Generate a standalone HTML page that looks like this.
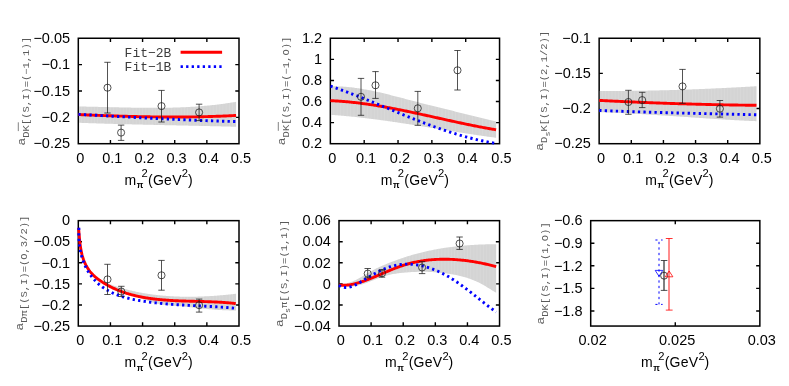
<!DOCTYPE html>
<html><head><meta charset="utf-8"><title>scattering lengths</title>
<style>
html,body{margin:0;padding:0;background:#fff;}
svg{display:block;}
text{font-kerning:none;filter:grayscale(1);}
</style></head>
<body>
<svg width="789" height="386" viewBox="0 0 789 386">
<rect width="789" height="386" fill="#ffffff"/>
<path d="M110.44 143.7 v-3.7 M110.44 38.25 v3.7 M142.58 143.7 v-3.7 M142.58 38.25 v3.7 M174.72 143.7 v-3.7 M174.72 38.25 v3.7 M206.86 143.7 v-3.7 M206.86 38.25 v3.7 M78.3 64.61 h3.7 M239 64.61 h-3.7 M78.3 90.97 h3.7 M239 90.97 h-3.7 M78.3 117.34 h3.7 M239 117.34 h-3.7" stroke="#000" stroke-width="1.4" fill="none"/>
<rect x="78.3" y="38.25" width="160.7" height="105.45" fill="none" stroke="#000" stroke-width="1.5"/>
<text x="80.2" y="162.7" text-anchor="middle" font-family='"Liberation Sans", sans-serif' font-size="14.5">0</text>
<text x="112.34" y="162.7" text-anchor="middle" font-family='"Liberation Sans", sans-serif' font-size="14.5">0.1</text>
<text x="144.48" y="162.7" text-anchor="middle" font-family='"Liberation Sans", sans-serif' font-size="14.5">0.2</text>
<text x="176.62" y="162.7" text-anchor="middle" font-family='"Liberation Sans", sans-serif' font-size="14.5">0.3</text>
<text x="208.76" y="162.7" text-anchor="middle" font-family='"Liberation Sans", sans-serif' font-size="14.5">0.4</text>
<text x="240.9" y="162.7" text-anchor="middle" font-family='"Liberation Sans", sans-serif' font-size="14.5">0.5</text>
<text x="70.1" y="42.95" text-anchor="end" font-family='"Liberation Sans", sans-serif' font-size="14.5">−0.05</text>
<text x="70.1" y="69.31" text-anchor="end" font-family='"Liberation Sans", sans-serif' font-size="14.5">−0.1</text>
<text x="70.1" y="95.67" text-anchor="end" font-family='"Liberation Sans", sans-serif' font-size="14.5">−0.15</text>
<text x="70.1" y="122.04" text-anchor="end" font-family='"Liberation Sans", sans-serif' font-size="14.5">−0.2</text>
<text x="70.1" y="148.4" text-anchor="end" font-family='"Liberation Sans", sans-serif' font-size="14.5">−0.25</text>
<text y="184.5" font-family='"Liberation Sans", sans-serif' font-size="14.0"><tspan x="124.45">m</tspan><tspan x="136.7" font-size="8.6" font-weight="bold" dy="3.8">π</tspan><tspan x="141.55" font-size="11.2" dy="-11.1">2</tspan><tspan x="148.05" dy="7.3" letter-spacing="0.25">(GeV</tspan><tspan x="181.75" font-size="11.2" dy="-7.3">2</tspan><tspan x="187.95" dy="7.3">)</tspan></text>
<g transform="translate(25 145.5) rotate(-90)" fill="#5a5a5a" font-family='"Liberation Mono", monospace'>
<text transform="scale(1 0.8)" x="0" y="0" font-size="13.0">a</text>
<text transform="translate(7.8 4.0) scale(1 0.86)" font-size="10.5">DK[(S,I)=(−1,1)]</text>
<path d="M14.4 -6.7 h8.8" stroke="#5a5a5a" stroke-width="0.75" fill="none"/>
</g>
<path d="M364.19 143.7 v-3.7 M364.19 38.25 v3.7 M398.03 143.7 v-3.7 M398.03 38.25 v3.7 M431.87 143.7 v-3.7 M431.87 38.25 v3.7 M465.71 143.7 v-3.7 M465.71 38.25 v3.7 M330.35 59.34 h3.7 M499.55 59.34 h-3.7 M330.35 80.43 h3.7 M499.55 80.43 h-3.7 M330.35 101.52 h3.7 M499.55 101.52 h-3.7 M330.35 122.61 h3.7 M499.55 122.61 h-3.7" stroke="#000" stroke-width="1.4" fill="none"/>
<rect x="330.35" y="38.25" width="169.2" height="105.45" fill="none" stroke="#000" stroke-width="1.5"/>
<text x="332.25" y="162.7" text-anchor="middle" font-family='"Liberation Sans", sans-serif' font-size="14.5">0</text>
<text x="366.09" y="162.7" text-anchor="middle" font-family='"Liberation Sans", sans-serif' font-size="14.5">0.1</text>
<text x="399.93" y="162.7" text-anchor="middle" font-family='"Liberation Sans", sans-serif' font-size="14.5">0.2</text>
<text x="433.77" y="162.7" text-anchor="middle" font-family='"Liberation Sans", sans-serif' font-size="14.5">0.3</text>
<text x="467.61" y="162.7" text-anchor="middle" font-family='"Liberation Sans", sans-serif' font-size="14.5">0.4</text>
<text x="501.45" y="162.7" text-anchor="middle" font-family='"Liberation Sans", sans-serif' font-size="14.5">0.5</text>
<text x="322.15" y="42.95" text-anchor="end" font-family='"Liberation Sans", sans-serif' font-size="14.5">1.2</text>
<text x="322.15" y="64.04" text-anchor="end" font-family='"Liberation Sans", sans-serif' font-size="14.5">1</text>
<text x="322.15" y="85.13" text-anchor="end" font-family='"Liberation Sans", sans-serif' font-size="14.5">0.8</text>
<text x="322.15" y="106.22" text-anchor="end" font-family='"Liberation Sans", sans-serif' font-size="14.5">0.6</text>
<text x="322.15" y="127.31" text-anchor="end" font-family='"Liberation Sans", sans-serif' font-size="14.5">0.4</text>
<text x="322.15" y="148.4" text-anchor="end" font-family='"Liberation Sans", sans-serif' font-size="14.5">0.2</text>
<text y="184.5" font-family='"Liberation Sans", sans-serif' font-size="14.0"><tspan x="380.75">m</tspan><tspan x="393" font-size="8.6" font-weight="bold" dy="3.8">π</tspan><tspan x="397.85" font-size="11.2" dy="-11.1">2</tspan><tspan x="404.35" dy="7.3" letter-spacing="0.25">(GeV</tspan><tspan x="438.05" font-size="11.2" dy="-7.3">2</tspan><tspan x="444.25" dy="7.3">)</tspan></text>
<g transform="translate(285 145.2) rotate(-90)" fill="#5a5a5a" font-family='"Liberation Mono", monospace'>
<text transform="scale(1 0.8)" x="0" y="0" font-size="13.0">a</text>
<text transform="translate(7.8 4.0) scale(1 0.86)" font-size="10.5">DK[(S,I)=(−1,O)]</text>
<path d="M14.4 -6.7 h8.8" stroke="#5a5a5a" stroke-width="0.75" fill="none"/>
</g>
<path d="M631.29 143.7 v-3.7 M631.29 38.25 v3.7 M663.43 143.7 v-3.7 M663.43 38.25 v3.7 M695.57 143.7 v-3.7 M695.57 38.25 v3.7 M727.71 143.7 v-3.7 M727.71 38.25 v3.7 M599.15 73.4 h3.7 M759.85 73.4 h-3.7 M599.15 108.55 h3.7 M759.85 108.55 h-3.7" stroke="#000" stroke-width="1.4" fill="none"/>
<rect x="599.15" y="38.25" width="160.7" height="105.45" fill="none" stroke="#000" stroke-width="1.5"/>
<text x="601.05" y="162.7" text-anchor="middle" font-family='"Liberation Sans", sans-serif' font-size="14.5">0</text>
<text x="633.19" y="162.7" text-anchor="middle" font-family='"Liberation Sans", sans-serif' font-size="14.5">0.1</text>
<text x="665.33" y="162.7" text-anchor="middle" font-family='"Liberation Sans", sans-serif' font-size="14.5">0.2</text>
<text x="697.47" y="162.7" text-anchor="middle" font-family='"Liberation Sans", sans-serif' font-size="14.5">0.3</text>
<text x="729.61" y="162.7" text-anchor="middle" font-family='"Liberation Sans", sans-serif' font-size="14.5">0.4</text>
<text x="761.75" y="162.7" text-anchor="middle" font-family='"Liberation Sans", sans-serif' font-size="14.5">0.5</text>
<text x="590.95" y="42.95" text-anchor="end" font-family='"Liberation Sans", sans-serif' font-size="14.5">−0.1</text>
<text x="590.95" y="78.1" text-anchor="end" font-family='"Liberation Sans", sans-serif' font-size="14.5">−0.15</text>
<text x="590.95" y="113.25" text-anchor="end" font-family='"Liberation Sans", sans-serif' font-size="14.5">−0.2</text>
<text x="590.95" y="148.4" text-anchor="end" font-family='"Liberation Sans", sans-serif' font-size="14.5">−0.25</text>
<text y="184.5" font-family='"Liberation Sans", sans-serif' font-size="14.0"><tspan x="645.3">m</tspan><tspan x="657.55" font-size="8.6" font-weight="bold" dy="3.8">π</tspan><tspan x="662.4" font-size="11.2" dy="-11.1">2</tspan><tspan x="668.9" dy="7.3" letter-spacing="0.25">(GeV</tspan><tspan x="702.6" font-size="11.2" dy="-7.3">2</tspan><tspan x="708.8" dy="7.3">)</tspan></text>
<g transform="translate(543.4 150.7) rotate(-90)" fill="#5a5a5a" font-family='"Liberation Mono", monospace'>
<text transform="scale(1 0.8)" x="0" y="0" font-size="13.0">a</text>
<text transform="translate(7.8 4.0) scale(1 0.86)" font-size="10.5">D</text>
<text transform="translate(14.1 6.6) scale(1 0.8)" font-size="8.4">s</text>
<text transform="translate(19.14 4.0) scale(1 0.86)" font-size="10.5">K[(S,I)=(2,1/2)]</text>
</g>
<path d="M110.44 326.05 v-3.7 M110.44 220.65 v3.7 M142.58 326.05 v-3.7 M142.58 220.65 v3.7 M174.72 326.05 v-3.7 M174.72 220.65 v3.7 M206.86 326.05 v-3.7 M206.86 220.65 v3.7 M78.3 241.73 h3.7 M239 241.73 h-3.7 M78.3 262.81 h3.7 M239 262.81 h-3.7 M78.3 283.89 h3.7 M239 283.89 h-3.7 M78.3 304.97 h3.7 M239 304.97 h-3.7" stroke="#000" stroke-width="1.4" fill="none"/>
<rect x="78.3" y="220.65" width="160.7" height="105.4" fill="none" stroke="#000" stroke-width="1.5"/>
<text x="80.2" y="345.05" text-anchor="middle" font-family='"Liberation Sans", sans-serif' font-size="14.5">0</text>
<text x="112.34" y="345.05" text-anchor="middle" font-family='"Liberation Sans", sans-serif' font-size="14.5">0.1</text>
<text x="144.48" y="345.05" text-anchor="middle" font-family='"Liberation Sans", sans-serif' font-size="14.5">0.2</text>
<text x="176.62" y="345.05" text-anchor="middle" font-family='"Liberation Sans", sans-serif' font-size="14.5">0.3</text>
<text x="208.76" y="345.05" text-anchor="middle" font-family='"Liberation Sans", sans-serif' font-size="14.5">0.4</text>
<text x="240.9" y="345.05" text-anchor="middle" font-family='"Liberation Sans", sans-serif' font-size="14.5">0.5</text>
<text x="70.1" y="225.35" text-anchor="end" font-family='"Liberation Sans", sans-serif' font-size="14.5">0</text>
<text x="70.1" y="246.43" text-anchor="end" font-family='"Liberation Sans", sans-serif' font-size="14.5">−0.05</text>
<text x="70.1" y="267.51" text-anchor="end" font-family='"Liberation Sans", sans-serif' font-size="14.5">−0.1</text>
<text x="70.1" y="288.59" text-anchor="end" font-family='"Liberation Sans", sans-serif' font-size="14.5">−0.15</text>
<text x="70.1" y="309.67" text-anchor="end" font-family='"Liberation Sans", sans-serif' font-size="14.5">−0.2</text>
<text x="70.1" y="330.75" text-anchor="end" font-family='"Liberation Sans", sans-serif' font-size="14.5">−0.25</text>
<text y="366.85" font-family='"Liberation Sans", sans-serif' font-size="14.0"><tspan x="124.45">m</tspan><tspan x="136.7" font-size="8.6" font-weight="bold" dy="3.8">π</tspan><tspan x="141.55" font-size="11.2" dy="-11.1">2</tspan><tspan x="148.05" dy="7.3" letter-spacing="0.25">(GeV</tspan><tspan x="181.75" font-size="11.2" dy="-7.3">2</tspan><tspan x="187.95" dy="7.3">)</tspan></text>
<g transform="translate(23.4 330.5) rotate(-90)" fill="#5a5a5a" font-family='"Liberation Mono", monospace'>
<text transform="scale(1 0.8)" x="0" y="0" font-size="13.0">a</text>
<text transform="translate(7.8 4.0) scale(1 0.86)" font-size="10.5">Dπ[(S,I)=(O,3/2)]</text>
</g>
<path d="M371.11 326.05 v-3.7 M371.11 220.65 v3.7 M403.22 326.05 v-3.7 M403.22 220.65 v3.7 M435.33 326.05 v-3.7 M435.33 220.65 v3.7 M467.44 326.05 v-3.7 M467.44 220.65 v3.7 M339 241.73 h3.7 M499.55 241.73 h-3.7 M339 262.81 h3.7 M499.55 262.81 h-3.7 M339 283.89 h3.7 M499.55 283.89 h-3.7 M339 304.97 h3.7 M499.55 304.97 h-3.7" stroke="#000" stroke-width="1.4" fill="none"/>
<rect x="339" y="220.65" width="160.55" height="105.4" fill="none" stroke="#000" stroke-width="1.5"/>
<text x="340.9" y="345.05" text-anchor="middle" font-family='"Liberation Sans", sans-serif' font-size="14.5">0</text>
<text x="373.01" y="345.05" text-anchor="middle" font-family='"Liberation Sans", sans-serif' font-size="14.5">0.1</text>
<text x="405.12" y="345.05" text-anchor="middle" font-family='"Liberation Sans", sans-serif' font-size="14.5">0.2</text>
<text x="437.23" y="345.05" text-anchor="middle" font-family='"Liberation Sans", sans-serif' font-size="14.5">0.3</text>
<text x="469.34" y="345.05" text-anchor="middle" font-family='"Liberation Sans", sans-serif' font-size="14.5">0.4</text>
<text x="501.45" y="345.05" text-anchor="middle" font-family='"Liberation Sans", sans-serif' font-size="14.5">0.5</text>
<text x="330.8" y="225.35" text-anchor="end" font-family='"Liberation Sans", sans-serif' font-size="14.5">0.06</text>
<text x="330.8" y="246.43" text-anchor="end" font-family='"Liberation Sans", sans-serif' font-size="14.5">0.04</text>
<text x="330.8" y="267.51" text-anchor="end" font-family='"Liberation Sans", sans-serif' font-size="14.5">0.02</text>
<text x="330.8" y="288.59" text-anchor="end" font-family='"Liberation Sans", sans-serif' font-size="14.5">0</text>
<text x="330.8" y="309.67" text-anchor="end" font-family='"Liberation Sans", sans-serif' font-size="14.5">−0.02</text>
<text x="330.8" y="330.75" text-anchor="end" font-family='"Liberation Sans", sans-serif' font-size="14.5">−0.04</text>
<text y="366.85" font-family='"Liberation Sans", sans-serif' font-size="14.0"><tspan x="385.07">m</tspan><tspan x="397.32" font-size="8.6" font-weight="bold" dy="3.8">π</tspan><tspan x="402.18" font-size="11.2" dy="-11.1">2</tspan><tspan x="408.68" dy="7.3" letter-spacing="0.25">(GeV</tspan><tspan x="442.38" font-size="11.2" dy="-7.3">2</tspan><tspan x="448.57" dy="7.3">)</tspan></text>
<g transform="translate(283.1 327.1) rotate(-90)" fill="#5a5a5a" font-family='"Liberation Mono", monospace'>
<text transform="scale(1 0.8)" x="0" y="0" font-size="13.0">a</text>
<text transform="translate(7.8 4.0) scale(1 0.86)" font-size="10.5">D</text>
<text transform="translate(14.1 6.6) scale(1 0.8)" font-size="8.4">s</text>
<text transform="translate(19.14 4.0) scale(1 0.86)" font-size="10.5">π[(S,I)=(1,1)]</text>
</g>
<path d="M675.28 326.05 v-3.7 M675.28 220.65 v3.7 M590.7 243.24 h3.7 M759.85 243.24 h-3.7 M590.7 265.82 h3.7 M759.85 265.82 h-3.7 M590.7 288.41 h3.7 M759.85 288.41 h-3.7 M590.7 310.99 h3.7 M759.85 310.99 h-3.7" stroke="#000" stroke-width="1.4" fill="none"/>
<rect x="590.7" y="220.65" width="169.15" height="105.4" fill="none" stroke="#000" stroke-width="1.5"/>
<text x="592.6" y="345.05" text-anchor="middle" font-family='"Liberation Sans", sans-serif' font-size="14.5">0.02</text>
<text x="677.18" y="345.05" text-anchor="middle" font-family='"Liberation Sans", sans-serif' font-size="14.5">0.025</text>
<text x="761.75" y="345.05" text-anchor="middle" font-family='"Liberation Sans", sans-serif' font-size="14.5">0.03</text>
<text x="582.5" y="225.35" text-anchor="end" font-family='"Liberation Sans", sans-serif' font-size="14.5">−0.6</text>
<text x="582.5" y="247.94" text-anchor="end" font-family='"Liberation Sans", sans-serif' font-size="14.5">−0.9</text>
<text x="582.5" y="270.52" text-anchor="end" font-family='"Liberation Sans", sans-serif' font-size="14.5">−1.2</text>
<text x="582.5" y="293.11" text-anchor="end" font-family='"Liberation Sans", sans-serif' font-size="14.5">−1.5</text>
<text x="582.5" y="315.69" text-anchor="end" font-family='"Liberation Sans", sans-serif' font-size="14.5">−1.8</text>
<text y="366.85" font-family='"Liberation Sans", sans-serif' font-size="14.0"><tspan x="641.08">m</tspan><tspan x="653.33" font-size="8.6" font-weight="bold" dy="3.8">π</tspan><tspan x="658.18" font-size="11.2" dy="-11.1">2</tspan><tspan x="664.68" dy="7.3" letter-spacing="0.25">(GeV</tspan><tspan x="698.38" font-size="11.2" dy="-7.3">2</tspan><tspan x="704.58" dy="7.3">)</tspan></text>
<g transform="translate(544.2 324.5) rotate(-90)" fill="#5a5a5a" font-family='"Liberation Mono", monospace'>
<text transform="scale(1 0.8)" x="0" y="0" font-size="13.0">a</text>
<text transform="translate(7.8 4.0) scale(1 0.86)" font-size="10.5">DK[(S,I)=(1,O)]</text>
</g>
<path d="M79 106.5 L79.99 106.51 L80.98 106.52 L81.97 106.54 L82.95 106.56 L83.94 106.57 L84.93 106.59 L85.92 106.61 L86.91 106.63 L87.9 106.65 L88.89 106.67 L89.87 106.69 L90.86 106.71 L91.85 106.73 L92.84 106.75 L93.83 106.77 L94.82 106.79 L95.81 106.81 L96.8 106.84 L97.79 106.86 L98.78 106.88 L99.77 106.9 L100.76 106.93 L101.75 106.95 L102.74 106.98 L103.73 107 L104.72 107.02 L105.71 107.05 L106.7 107.07 L107.69 107.1 L108.68 107.12 L109.67 107.14 L110.66 107.17 L111.65 107.19 L112.64 107.22 L113.63 107.24 L114.62 107.26 L115.61 107.29 L116.6 107.31 L117.59 107.34 L118.58 107.36 L119.57 107.38 L120.56 107.4 L121.55 107.43 L122.54 107.45 L123.54 107.47 L124.53 107.49 L125.52 107.51 L126.51 107.53 L127.5 107.55 L128.49 107.57 L129.48 107.59 L130.47 107.61 L131.46 107.63 L132.45 107.65 L133.44 107.66 L134.43 107.68 L135.43 107.7 L136.42 107.71 L137.41 107.72 L138.4 107.74 L139.39 107.75 L140.38 107.76 L141.37 107.78 L142.36 107.79 L143.35 107.8 L144.34 107.81 L145.33 107.81 L146.32 107.82 L147.31 107.83 L148.3 107.83 L149.29 107.84 L150.29 107.84 L151.28 107.84 L152.27 107.85 L153.26 107.85 L154.25 107.85 L155.24 107.85 L156.23 107.84 L157.22 107.84 L158.21 107.83 L159.2 107.83 L160.19 107.82 L161.18 107.81 L162.17 107.8 L163.16 107.79 L164.15 107.78 L165.14 107.77 L166.13 107.75 L167.12 107.73 L168.11 107.72 L169.1 107.7 L170.08 107.68 L171.07 107.65 L172.06 107.63 L173.05 107.61 L174.04 107.58 L175.03 107.55 L176.02 107.52 L177.01 107.49 L178 107.46 L178.99 107.42 L179.97 107.39 L180.96 107.35 L181.95 107.31 L182.94 107.27 L183.93 107.22 L184.92 107.18 L185.9 107.13 L186.89 107.08 L187.88 107.03 L188.87 106.98 L189.85 106.93 L190.84 106.87 L191.83 106.81 L192.82 106.75 L193.8 106.69 L194.79 106.63 L195.78 106.56 L196.76 106.49 L197.75 106.42 L198.74 106.35 L199.72 106.27 L200.71 106.2 L201.69 106.12 L202.68 106.04 L203.67 105.95 L204.65 105.87 L205.64 105.78 L206.62 105.69 L207.61 105.6 L208.59 105.5 L209.58 105.41 L210.56 105.31 L211.55 105.2 L212.53 105.1 L213.51 104.99 L214.5 104.88 L215.48 104.77 L216.47 104.66 L217.45 104.54 L218.43 104.42 L219.42 104.3 L220.4 104.17 L221.38 104.04 L222.36 103.91 L223.35 103.78 L224.33 103.65 L225.31 103.51 L226.29 103.37 L227.27 103.22 L228.26 103.07 L229.24 102.93 L230.22 102.77 L231.2 102.62 L232.18 102.46 L233.16 102.3 L234.14 102.13 L235.12 101.97 L236.1 101.8 L236.1 126.78 L235.11 126.76 L234.12 126.73 L233.14 126.7 L232.15 126.68 L231.16 126.65 L230.17 126.62 L229.18 126.6 L228.2 126.57 L227.21 126.55 L226.22 126.52 L225.23 126.5 L224.24 126.47 L223.26 126.45 L222.27 126.42 L221.28 126.4 L220.29 126.37 L219.3 126.35 L218.32 126.32 L217.33 126.3 L216.34 126.28 L215.35 126.25 L214.36 126.23 L213.38 126.21 L212.39 126.18 L211.4 126.16 L210.41 126.14 L209.42 126.11 L208.43 126.09 L207.45 126.07 L206.46 126.04 L205.47 126.02 L204.48 126 L203.49 125.98 L202.51 125.95 L201.52 125.93 L200.53 125.91 L199.54 125.89 L198.55 125.86 L197.57 125.84 L196.58 125.82 L195.59 125.8 L194.6 125.78 L193.61 125.75 L192.62 125.73 L191.64 125.71 L190.65 125.69 L189.66 125.67 L188.67 125.64 L187.68 125.62 L186.7 125.6 L185.71 125.58 L184.72 125.56 L183.73 125.54 L182.74 125.51 L181.76 125.49 L180.77 125.47 L179.78 125.45 L178.79 125.43 L177.8 125.41 L176.81 125.39 L175.83 125.36 L174.84 125.34 L173.85 125.32 L172.86 125.3 L171.87 125.28 L170.89 125.26 L169.9 125.24 L168.91 125.21 L167.92 125.19 L166.93 125.17 L165.95 125.15 L164.96 125.13 L163.97 125.11 L162.98 125.08 L161.99 125.06 L161 125.04 L160.02 125.02 L159.03 125 L158.04 124.98 L157.05 124.95 L156.06 124.93 L155.08 124.91 L154.09 124.89 L153.1 124.87 L152.11 124.84 L151.12 124.82 L150.14 124.8 L149.15 124.78 L148.16 124.75 L147.17 124.73 L146.18 124.71 L145.19 124.68 L144.21 124.66 L143.22 124.64 L142.23 124.62 L141.24 124.59 L140.25 124.57 L139.27 124.54 L138.28 124.52 L137.29 124.5 L136.3 124.47 L135.31 124.45 L134.33 124.43 L133.34 124.4 L132.35 124.38 L131.36 124.35 L130.37 124.33 L129.39 124.3 L128.4 124.28 L127.41 124.25 L126.42 124.23 L125.43 124.2 L124.44 124.18 L123.46 124.15 L122.47 124.13 L121.48 124.1 L120.49 124.07 L119.5 124.05 L118.52 124.02 L117.53 123.99 L116.54 123.97 L115.55 123.94 L114.56 123.91 L113.58 123.89 L112.59 123.86 L111.6 123.83 L110.61 123.8 L109.62 123.77 L108.64 123.75 L107.65 123.72 L106.66 123.69 L105.67 123.66 L104.69 123.63 L103.7 123.6 L102.71 123.57 L101.72 123.54 L100.73 123.51 L99.75 123.48 L98.76 123.45 L97.77 123.42 L96.78 123.39 L95.79 123.36 L94.81 123.33 L93.82 123.29 L92.83 123.26 L91.84 123.23 L90.85 123.2 L89.87 123.16 L88.88 123.13 L87.89 123.1 L86.9 123.06 L85.92 123.03 L84.93 123 L83.94 122.96 L82.95 122.93 L81.96 122.89 L80.98 122.86 L79.99 122.82 L79 122.79Z" fill="#d4d4d4"/>
<clipPath id="cb1"><path d="M79 106.5 L79.99 106.51 L80.98 106.52 L81.97 106.54 L82.95 106.56 L83.94 106.57 L84.93 106.59 L85.92 106.61 L86.91 106.63 L87.9 106.65 L88.89 106.67 L89.87 106.69 L90.86 106.71 L91.85 106.73 L92.84 106.75 L93.83 106.77 L94.82 106.79 L95.81 106.81 L96.8 106.84 L97.79 106.86 L98.78 106.88 L99.77 106.9 L100.76 106.93 L101.75 106.95 L102.74 106.98 L103.73 107 L104.72 107.02 L105.71 107.05 L106.7 107.07 L107.69 107.1 L108.68 107.12 L109.67 107.14 L110.66 107.17 L111.65 107.19 L112.64 107.22 L113.63 107.24 L114.62 107.26 L115.61 107.29 L116.6 107.31 L117.59 107.34 L118.58 107.36 L119.57 107.38 L120.56 107.4 L121.55 107.43 L122.54 107.45 L123.54 107.47 L124.53 107.49 L125.52 107.51 L126.51 107.53 L127.5 107.55 L128.49 107.57 L129.48 107.59 L130.47 107.61 L131.46 107.63 L132.45 107.65 L133.44 107.66 L134.43 107.68 L135.43 107.7 L136.42 107.71 L137.41 107.72 L138.4 107.74 L139.39 107.75 L140.38 107.76 L141.37 107.78 L142.36 107.79 L143.35 107.8 L144.34 107.81 L145.33 107.81 L146.32 107.82 L147.31 107.83 L148.3 107.83 L149.29 107.84 L150.29 107.84 L151.28 107.84 L152.27 107.85 L153.26 107.85 L154.25 107.85 L155.24 107.85 L156.23 107.84 L157.22 107.84 L158.21 107.83 L159.2 107.83 L160.19 107.82 L161.18 107.81 L162.17 107.8 L163.16 107.79 L164.15 107.78 L165.14 107.77 L166.13 107.75 L167.12 107.73 L168.11 107.72 L169.1 107.7 L170.08 107.68 L171.07 107.65 L172.06 107.63 L173.05 107.61 L174.04 107.58 L175.03 107.55 L176.02 107.52 L177.01 107.49 L178 107.46 L178.99 107.42 L179.97 107.39 L180.96 107.35 L181.95 107.31 L182.94 107.27 L183.93 107.22 L184.92 107.18 L185.9 107.13 L186.89 107.08 L187.88 107.03 L188.87 106.98 L189.85 106.93 L190.84 106.87 L191.83 106.81 L192.82 106.75 L193.8 106.69 L194.79 106.63 L195.78 106.56 L196.76 106.49 L197.75 106.42 L198.74 106.35 L199.72 106.27 L200.71 106.2 L201.69 106.12 L202.68 106.04 L203.67 105.95 L204.65 105.87 L205.64 105.78 L206.62 105.69 L207.61 105.6 L208.59 105.5 L209.58 105.41 L210.56 105.31 L211.55 105.2 L212.53 105.1 L213.51 104.99 L214.5 104.88 L215.48 104.77 L216.47 104.66 L217.45 104.54 L218.43 104.42 L219.42 104.3 L220.4 104.17 L221.38 104.04 L222.36 103.91 L223.35 103.78 L224.33 103.65 L225.31 103.51 L226.29 103.37 L227.27 103.22 L228.26 103.07 L229.24 102.93 L230.22 102.77 L231.2 102.62 L232.18 102.46 L233.16 102.3 L234.14 102.13 L235.12 101.97 L236.1 101.8 L236.1 126.78 L235.11 126.76 L234.12 126.73 L233.14 126.7 L232.15 126.68 L231.16 126.65 L230.17 126.62 L229.18 126.6 L228.2 126.57 L227.21 126.55 L226.22 126.52 L225.23 126.5 L224.24 126.47 L223.26 126.45 L222.27 126.42 L221.28 126.4 L220.29 126.37 L219.3 126.35 L218.32 126.32 L217.33 126.3 L216.34 126.28 L215.35 126.25 L214.36 126.23 L213.38 126.21 L212.39 126.18 L211.4 126.16 L210.41 126.14 L209.42 126.11 L208.43 126.09 L207.45 126.07 L206.46 126.04 L205.47 126.02 L204.48 126 L203.49 125.98 L202.51 125.95 L201.52 125.93 L200.53 125.91 L199.54 125.89 L198.55 125.86 L197.57 125.84 L196.58 125.82 L195.59 125.8 L194.6 125.78 L193.61 125.75 L192.62 125.73 L191.64 125.71 L190.65 125.69 L189.66 125.67 L188.67 125.64 L187.68 125.62 L186.7 125.6 L185.71 125.58 L184.72 125.56 L183.73 125.54 L182.74 125.51 L181.76 125.49 L180.77 125.47 L179.78 125.45 L178.79 125.43 L177.8 125.41 L176.81 125.39 L175.83 125.36 L174.84 125.34 L173.85 125.32 L172.86 125.3 L171.87 125.28 L170.89 125.26 L169.9 125.24 L168.91 125.21 L167.92 125.19 L166.93 125.17 L165.95 125.15 L164.96 125.13 L163.97 125.11 L162.98 125.08 L161.99 125.06 L161 125.04 L160.02 125.02 L159.03 125 L158.04 124.98 L157.05 124.95 L156.06 124.93 L155.08 124.91 L154.09 124.89 L153.1 124.87 L152.11 124.84 L151.12 124.82 L150.14 124.8 L149.15 124.78 L148.16 124.75 L147.17 124.73 L146.18 124.71 L145.19 124.68 L144.21 124.66 L143.22 124.64 L142.23 124.62 L141.24 124.59 L140.25 124.57 L139.27 124.54 L138.28 124.52 L137.29 124.5 L136.3 124.47 L135.31 124.45 L134.33 124.43 L133.34 124.4 L132.35 124.38 L131.36 124.35 L130.37 124.33 L129.39 124.3 L128.4 124.28 L127.41 124.25 L126.42 124.23 L125.43 124.2 L124.44 124.18 L123.46 124.15 L122.47 124.13 L121.48 124.1 L120.49 124.07 L119.5 124.05 L118.52 124.02 L117.53 123.99 L116.54 123.97 L115.55 123.94 L114.56 123.91 L113.58 123.89 L112.59 123.86 L111.6 123.83 L110.61 123.8 L109.62 123.77 L108.64 123.75 L107.65 123.72 L106.66 123.69 L105.67 123.66 L104.69 123.63 L103.7 123.6 L102.71 123.57 L101.72 123.54 L100.73 123.51 L99.75 123.48 L98.76 123.45 L97.77 123.42 L96.78 123.39 L95.79 123.36 L94.81 123.33 L93.82 123.29 L92.83 123.26 L91.84 123.23 L90.85 123.2 L89.87 123.16 L88.88 123.13 L87.89 123.1 L86.9 123.06 L85.92 123.03 L84.93 123 L83.94 122.96 L82.95 122.93 L81.96 122.89 L80.98 122.86 L79.99 122.82 L79 122.79Z"/></clipPath>
<path clip-path="url(#cb1)" d="M81.51 100.8V127.78 M84.73 100.8V127.78 M87.94 100.8V127.78 M91.16 100.8V127.78 M94.37 100.8V127.78 M97.58 100.8V127.78 M100.8 100.8V127.78 M104.01 100.8V127.78 M107.23 100.8V127.78 M110.44 100.8V127.78 M113.65 100.8V127.78 M116.87 100.8V127.78 M120.08 100.8V127.78 M123.3 100.8V127.78 M126.51 100.8V127.78 M129.72 100.8V127.78 M132.94 100.8V127.78 M136.15 100.8V127.78 M139.37 100.8V127.78 M142.58 100.8V127.78 M145.79 100.8V127.78 M149.01 100.8V127.78 M152.22 100.8V127.78 M155.44 100.8V127.78 M158.65 100.8V127.78 M161.86 100.8V127.78 M165.08 100.8V127.78 M168.29 100.8V127.78 M171.51 100.8V127.78 M174.72 100.8V127.78 M177.93 100.8V127.78 M181.15 100.8V127.78 M184.36 100.8V127.78 M187.58 100.8V127.78 M190.79 100.8V127.78 M194 100.8V127.78 M197.22 100.8V127.78 M200.43 100.8V127.78 M203.65 100.8V127.78 M206.86 100.8V127.78 M210.07 100.8V127.78 M213.29 100.8V127.78 M216.5 100.8V127.78 M219.72 100.8V127.78 M222.93 100.8V127.78 M226.14 100.8V127.78 M229.36 100.8V127.78 M232.57 100.8V127.78" stroke="#ffffff" stroke-opacity="0.16" stroke-width="0.7" fill="none"/>
<path d="M331.02 86.3 L332.09 86.29 L333.17 86.28 L334.24 86.29 L335.32 86.3 L336.39 86.32 L337.46 86.35 L338.53 86.39 L339.6 86.43 L340.67 86.48 L341.73 86.54 L342.8 86.61 L343.86 86.68 L344.92 86.76 L345.98 86.84 L347.04 86.93 L348.1 87.03 L349.16 87.13 L350.22 87.25 L351.27 87.36 L352.33 87.48 L353.38 87.61 L354.43 87.75 L355.48 87.89 L356.53 88.03 L357.58 88.18 L358.63 88.34 L359.68 88.5 L360.73 88.66 L361.77 88.83 L362.82 89.01 L363.87 89.19 L364.91 89.38 L365.95 89.56 L367 89.76 L368.04 89.96 L369.08 90.16 L370.12 90.36 L371.16 90.57 L372.2 90.79 L373.24 91 L374.27 91.22 L375.31 91.45 L376.35 91.67 L377.39 91.9 L378.42 92.14 L379.46 92.37 L380.49 92.61 L381.53 92.85 L382.56 93.1 L383.59 93.35 L384.63 93.59 L385.66 93.85 L386.69 94.1 L387.73 94.35 L388.76 94.61 L389.79 94.87 L390.82 95.13 L391.85 95.39 L392.88 95.66 L393.91 95.92 L394.94 96.19 L395.98 96.45 L397.01 96.72 L398.04 96.99 L399.07 97.26 L400.1 97.53 L401.13 97.8 L402.16 98.07 L403.19 98.34 L404.22 98.61 L405.25 98.88 L406.28 99.16 L407.31 99.43 L408.34 99.7 L409.37 99.97 L410.4 100.24 L411.43 100.5 L412.46 100.77 L413.49 101.04 L414.52 101.31 L415.56 101.57 L416.59 101.84 L417.62 102.1 L418.65 102.37 L419.68 102.63 L420.71 102.9 L421.75 103.16 L422.78 103.42 L423.81 103.68 L424.84 103.94 L425.88 104.21 L426.91 104.47 L427.94 104.73 L428.98 104.99 L430.01 105.25 L431.04 105.5 L432.07 105.76 L433.11 106.02 L434.14 106.28 L435.17 106.54 L436.21 106.79 L437.24 107.05 L438.28 107.31 L439.31 107.56 L440.34 107.82 L441.38 108.07 L442.41 108.33 L443.44 108.58 L444.48 108.84 L445.51 109.09 L446.55 109.35 L447.58 109.6 L448.61 109.86 L449.65 110.11 L450.68 110.36 L451.71 110.62 L452.75 110.87 L453.78 111.12 L454.82 111.38 L455.85 111.63 L456.88 111.88 L457.92 112.14 L458.95 112.39 L459.99 112.64 L461.02 112.9 L462.05 113.15 L463.09 113.4 L464.12 113.66 L465.15 113.91 L466.19 114.16 L467.22 114.42 L468.25 114.67 L469.29 114.92 L470.32 115.18 L471.35 115.43 L472.39 115.69 L473.42 115.94 L474.45 116.19 L475.49 116.45 L476.52 116.7 L477.55 116.96 L478.58 117.21 L479.62 117.47 L480.65 117.72 L481.68 117.98 L482.71 118.24 L483.75 118.49 L484.78 118.75 L485.81 119.01 L486.84 119.26 L487.87 119.52 L488.9 119.78 L489.94 120.04 L490.97 120.3 L492 120.56 L493.03 120.81 L494.06 121.08 L495.09 121.34 L496.1 121.6 L496.1 137.78 L495.06 137.65 L494.02 137.51 L492.98 137.37 L491.94 137.22 L490.91 137.08 L489.87 136.94 L488.83 136.8 L487.79 136.65 L486.75 136.5 L485.72 136.36 L484.68 136.21 L483.64 136.06 L482.6 135.91 L481.56 135.76 L480.53 135.61 L479.49 135.46 L478.45 135.3 L477.42 135.15 L476.38 135 L475.34 134.84 L474.3 134.68 L473.27 134.53 L472.23 134.37 L471.19 134.21 L470.16 134.05 L469.12 133.89 L468.09 133.74 L467.05 133.57 L466.01 133.41 L464.98 133.25 L463.94 133.09 L462.9 132.93 L461.87 132.76 L460.83 132.6 L459.8 132.44 L458.76 132.27 L457.73 132.11 L456.69 131.94 L455.65 131.78 L454.62 131.61 L453.58 131.45 L452.55 131.28 L451.51 131.11 L450.48 130.95 L449.44 130.78 L448.41 130.61 L447.37 130.44 L446.34 130.28 L445.3 130.11 L444.26 129.94 L443.23 129.77 L442.19 129.6 L441.16 129.43 L440.12 129.26 L439.09 129.1 L438.05 128.93 L437.02 128.76 L435.98 128.59 L434.95 128.42 L433.91 128.25 L432.88 128.08 L431.84 127.91 L430.81 127.75 L429.77 127.58 L428.74 127.41 L427.7 127.24 L426.67 127.07 L425.63 126.9 L424.6 126.74 L423.56 126.57 L422.52 126.4 L421.49 126.24 L420.45 126.07 L419.42 125.9 L418.38 125.74 L417.35 125.57 L416.31 125.41 L415.28 125.24 L414.24 125.08 L413.2 124.91 L412.17 124.75 L411.13 124.58 L410.1 124.42 L409.06 124.26 L408.02 124.1 L406.99 123.94 L405.95 123.78 L404.92 123.62 L403.88 123.46 L402.84 123.3 L401.81 123.14 L400.77 122.98 L399.73 122.82 L398.7 122.67 L397.66 122.51 L396.62 122.36 L395.59 122.2 L394.55 122.05 L393.51 121.9 L392.47 121.75 L391.44 121.59 L390.4 121.44 L389.36 121.29 L388.32 121.15 L387.29 121 L386.25 120.85 L385.21 120.71 L384.17 120.56 L383.13 120.42 L382.09 120.28 L381.05 120.13 L380.02 119.99 L378.98 119.85 L377.94 119.71 L376.9 119.58 L375.86 119.44 L374.82 119.31 L373.78 119.17 L372.74 119.04 L371.7 118.91 L370.66 118.78 L369.62 118.65 L368.58 118.52 L367.54 118.39 L366.5 118.27 L365.46 118.14 L364.42 118.02 L363.38 117.9 L362.33 117.78 L361.29 117.66 L360.25 117.54 L359.21 117.42 L358.17 117.31 L357.12 117.2 L356.08 117.08 L355.04 116.97 L354 116.86 L352.95 116.76 L351.91 116.65 L350.87 116.55 L349.82 116.44 L348.78 116.34 L347.73 116.24 L346.69 116.15 L345.65 116.05 L344.6 115.96 L343.56 115.86 L342.51 115.77 L341.47 115.68 L340.42 115.59 L339.37 115.51 L338.33 115.43 L337.28 115.34 L336.23 115.26 L335.19 115.18 L334.14 115.11 L333.09 115.03 L332.05 114.96 L331 114.89Z" fill="#d4d4d4"/>
<clipPath id="cb2"><path d="M331.02 86.3 L332.09 86.29 L333.17 86.28 L334.24 86.29 L335.32 86.3 L336.39 86.32 L337.46 86.35 L338.53 86.39 L339.6 86.43 L340.67 86.48 L341.73 86.54 L342.8 86.61 L343.86 86.68 L344.92 86.76 L345.98 86.84 L347.04 86.93 L348.1 87.03 L349.16 87.13 L350.22 87.25 L351.27 87.36 L352.33 87.48 L353.38 87.61 L354.43 87.75 L355.48 87.89 L356.53 88.03 L357.58 88.18 L358.63 88.34 L359.68 88.5 L360.73 88.66 L361.77 88.83 L362.82 89.01 L363.87 89.19 L364.91 89.38 L365.95 89.56 L367 89.76 L368.04 89.96 L369.08 90.16 L370.12 90.36 L371.16 90.57 L372.2 90.79 L373.24 91 L374.27 91.22 L375.31 91.45 L376.35 91.67 L377.39 91.9 L378.42 92.14 L379.46 92.37 L380.49 92.61 L381.53 92.85 L382.56 93.1 L383.59 93.35 L384.63 93.59 L385.66 93.85 L386.69 94.1 L387.73 94.35 L388.76 94.61 L389.79 94.87 L390.82 95.13 L391.85 95.39 L392.88 95.66 L393.91 95.92 L394.94 96.19 L395.98 96.45 L397.01 96.72 L398.04 96.99 L399.07 97.26 L400.1 97.53 L401.13 97.8 L402.16 98.07 L403.19 98.34 L404.22 98.61 L405.25 98.88 L406.28 99.16 L407.31 99.43 L408.34 99.7 L409.37 99.97 L410.4 100.24 L411.43 100.5 L412.46 100.77 L413.49 101.04 L414.52 101.31 L415.56 101.57 L416.59 101.84 L417.62 102.1 L418.65 102.37 L419.68 102.63 L420.71 102.9 L421.75 103.16 L422.78 103.42 L423.81 103.68 L424.84 103.94 L425.88 104.21 L426.91 104.47 L427.94 104.73 L428.98 104.99 L430.01 105.25 L431.04 105.5 L432.07 105.76 L433.11 106.02 L434.14 106.28 L435.17 106.54 L436.21 106.79 L437.24 107.05 L438.28 107.31 L439.31 107.56 L440.34 107.82 L441.38 108.07 L442.41 108.33 L443.44 108.58 L444.48 108.84 L445.51 109.09 L446.55 109.35 L447.58 109.6 L448.61 109.86 L449.65 110.11 L450.68 110.36 L451.71 110.62 L452.75 110.87 L453.78 111.12 L454.82 111.38 L455.85 111.63 L456.88 111.88 L457.92 112.14 L458.95 112.39 L459.99 112.64 L461.02 112.9 L462.05 113.15 L463.09 113.4 L464.12 113.66 L465.15 113.91 L466.19 114.16 L467.22 114.42 L468.25 114.67 L469.29 114.92 L470.32 115.18 L471.35 115.43 L472.39 115.69 L473.42 115.94 L474.45 116.19 L475.49 116.45 L476.52 116.7 L477.55 116.96 L478.58 117.21 L479.62 117.47 L480.65 117.72 L481.68 117.98 L482.71 118.24 L483.75 118.49 L484.78 118.75 L485.81 119.01 L486.84 119.26 L487.87 119.52 L488.9 119.78 L489.94 120.04 L490.97 120.3 L492 120.56 L493.03 120.81 L494.06 121.08 L495.09 121.34 L496.1 121.6 L496.1 137.78 L495.06 137.65 L494.02 137.51 L492.98 137.37 L491.94 137.22 L490.91 137.08 L489.87 136.94 L488.83 136.8 L487.79 136.65 L486.75 136.5 L485.72 136.36 L484.68 136.21 L483.64 136.06 L482.6 135.91 L481.56 135.76 L480.53 135.61 L479.49 135.46 L478.45 135.3 L477.42 135.15 L476.38 135 L475.34 134.84 L474.3 134.68 L473.27 134.53 L472.23 134.37 L471.19 134.21 L470.16 134.05 L469.12 133.89 L468.09 133.74 L467.05 133.57 L466.01 133.41 L464.98 133.25 L463.94 133.09 L462.9 132.93 L461.87 132.76 L460.83 132.6 L459.8 132.44 L458.76 132.27 L457.73 132.11 L456.69 131.94 L455.65 131.78 L454.62 131.61 L453.58 131.45 L452.55 131.28 L451.51 131.11 L450.48 130.95 L449.44 130.78 L448.41 130.61 L447.37 130.44 L446.34 130.28 L445.3 130.11 L444.26 129.94 L443.23 129.77 L442.19 129.6 L441.16 129.43 L440.12 129.26 L439.09 129.1 L438.05 128.93 L437.02 128.76 L435.98 128.59 L434.95 128.42 L433.91 128.25 L432.88 128.08 L431.84 127.91 L430.81 127.75 L429.77 127.58 L428.74 127.41 L427.7 127.24 L426.67 127.07 L425.63 126.9 L424.6 126.74 L423.56 126.57 L422.52 126.4 L421.49 126.24 L420.45 126.07 L419.42 125.9 L418.38 125.74 L417.35 125.57 L416.31 125.41 L415.28 125.24 L414.24 125.08 L413.2 124.91 L412.17 124.75 L411.13 124.58 L410.1 124.42 L409.06 124.26 L408.02 124.1 L406.99 123.94 L405.95 123.78 L404.92 123.62 L403.88 123.46 L402.84 123.3 L401.81 123.14 L400.77 122.98 L399.73 122.82 L398.7 122.67 L397.66 122.51 L396.62 122.36 L395.59 122.2 L394.55 122.05 L393.51 121.9 L392.47 121.75 L391.44 121.59 L390.4 121.44 L389.36 121.29 L388.32 121.15 L387.29 121 L386.25 120.85 L385.21 120.71 L384.17 120.56 L383.13 120.42 L382.09 120.28 L381.05 120.13 L380.02 119.99 L378.98 119.85 L377.94 119.71 L376.9 119.58 L375.86 119.44 L374.82 119.31 L373.78 119.17 L372.74 119.04 L371.7 118.91 L370.66 118.78 L369.62 118.65 L368.58 118.52 L367.54 118.39 L366.5 118.27 L365.46 118.14 L364.42 118.02 L363.38 117.9 L362.33 117.78 L361.29 117.66 L360.25 117.54 L359.21 117.42 L358.17 117.31 L357.12 117.2 L356.08 117.08 L355.04 116.97 L354 116.86 L352.95 116.76 L351.91 116.65 L350.87 116.55 L349.82 116.44 L348.78 116.34 L347.73 116.24 L346.69 116.15 L345.65 116.05 L344.6 115.96 L343.56 115.86 L342.51 115.77 L341.47 115.68 L340.42 115.59 L339.37 115.51 L338.33 115.43 L337.28 115.34 L336.23 115.26 L335.19 115.18 L334.14 115.11 L333.09 115.03 L332.05 114.96 L331 114.89Z"/></clipPath>
<path clip-path="url(#cb2)" d="M333.73 85.28V138.78 M337.12 85.28V138.78 M340.5 85.28V138.78 M343.89 85.28V138.78 M347.27 85.28V138.78 M350.65 85.28V138.78 M354.04 85.28V138.78 M357.42 85.28V138.78 M360.81 85.28V138.78 M364.19 85.28V138.78 M367.57 85.28V138.78 M370.96 85.28V138.78 M374.34 85.28V138.78 M377.73 85.28V138.78 M381.11 85.28V138.78 M384.49 85.28V138.78 M387.88 85.28V138.78 M391.26 85.28V138.78 M394.65 85.28V138.78 M398.03 85.28V138.78 M401.41 85.28V138.78 M404.8 85.28V138.78 M408.18 85.28V138.78 M411.57 85.28V138.78 M414.95 85.28V138.78 M418.33 85.28V138.78 M421.72 85.28V138.78 M425.1 85.28V138.78 M428.49 85.28V138.78 M431.87 85.28V138.78 M435.25 85.28V138.78 M438.64 85.28V138.78 M442.02 85.28V138.78 M445.41 85.28V138.78 M448.79 85.28V138.78 M452.17 85.28V138.78 M455.56 85.28V138.78 M458.94 85.28V138.78 M462.33 85.28V138.78 M465.71 85.28V138.78 M469.09 85.28V138.78 M472.48 85.28V138.78 M475.86 85.28V138.78 M479.25 85.28V138.78 M482.63 85.28V138.78 M486.01 85.28V138.78 M489.4 85.28V138.78 M492.78 85.28V138.78" stroke="#ffffff" stroke-opacity="0.16" stroke-width="0.7" fill="none"/>
<path d="M599.8 90.97 L600.79 90.97 L601.77 90.98 L602.76 90.98 L603.74 90.98 L604.73 90.99 L605.72 90.99 L606.7 90.99 L607.69 90.99 L608.68 90.99 L609.66 90.99 L610.65 90.99 L611.64 90.99 L612.62 90.99 L613.61 90.99 L614.59 90.99 L615.58 90.99 L616.57 90.98 L617.55 90.98 L618.54 90.97 L619.53 90.97 L620.51 90.96 L621.5 90.96 L622.48 90.95 L623.47 90.95 L624.46 90.94 L625.44 90.93 L626.43 90.92 L627.42 90.91 L628.4 90.91 L629.39 90.9 L630.37 90.89 L631.36 90.88 L632.35 90.86 L633.33 90.85 L634.32 90.84 L635.3 90.83 L636.29 90.82 L637.28 90.8 L638.26 90.79 L639.25 90.77 L640.23 90.76 L641.22 90.74 L642.21 90.73 L643.19 90.71 L644.18 90.69 L645.16 90.68 L646.15 90.66 L647.14 90.64 L648.12 90.62 L649.11 90.6 L650.09 90.59 L651.08 90.57 L652.06 90.55 L653.05 90.52 L654.04 90.5 L655.02 90.48 L656.01 90.46 L656.99 90.44 L657.98 90.41 L658.97 90.39 L659.95 90.37 L660.94 90.34 L661.92 90.32 L662.91 90.29 L663.89 90.27 L664.88 90.24 L665.86 90.22 L666.85 90.19 L667.84 90.16 L668.82 90.13 L669.81 90.11 L670.79 90.08 L671.78 90.05 L672.76 90.02 L673.75 89.99 L674.74 89.96 L675.72 89.93 L676.71 89.9 L677.69 89.87 L678.68 89.84 L679.66 89.81 L680.65 89.77 L681.63 89.74 L682.62 89.71 L683.6 89.67 L684.59 89.64 L685.58 89.61 L686.56 89.57 L687.55 89.54 L688.53 89.5 L689.52 89.46 L690.5 89.43 L691.49 89.39 L692.47 89.36 L693.46 89.32 L694.44 89.28 L695.43 89.24 L696.41 89.2 L697.4 89.17 L698.39 89.13 L699.37 89.09 L700.36 89.05 L701.34 89.01 L702.33 88.97 L703.31 88.93 L704.3 88.89 L705.28 88.84 L706.27 88.8 L707.25 88.76 L708.24 88.72 L709.22 88.67 L710.21 88.63 L711.19 88.59 L712.18 88.54 L713.16 88.5 L714.15 88.45 L715.13 88.41 L716.12 88.36 L717.1 88.32 L718.09 88.27 L719.07 88.23 L720.06 88.18 L721.04 88.13 L722.03 88.09 L723.01 88.04 L724 87.99 L724.98 87.94 L725.97 87.9 L726.95 87.85 L727.94 87.8 L728.92 87.75 L729.91 87.7 L730.89 87.65 L731.88 87.6 L732.86 87.55 L733.85 87.5 L734.83 87.45 L735.82 87.4 L736.8 87.34 L737.79 87.29 L738.77 87.24 L739.76 87.19 L740.74 87.14 L741.73 87.08 L742.71 87.03 L743.7 86.98 L744.68 86.92 L745.67 86.87 L746.65 86.81 L747.64 86.76 L748.62 86.7 L749.61 86.65 L750.59 86.59 L751.58 86.54 L752.56 86.48 L753.54 86.43 L754.53 86.37 L755.51 86.31 L756.5 86.26 L756.5 121.2 L755.51 121.16 L754.53 121.12 L753.54 121.07 L752.55 121.03 L751.57 120.99 L750.58 120.94 L749.6 120.9 L748.61 120.85 L747.62 120.81 L746.64 120.76 L745.65 120.71 L744.66 120.66 L743.68 120.61 L742.69 120.56 L741.71 120.51 L740.72 120.46 L739.73 120.41 L738.75 120.36 L737.76 120.31 L736.78 120.25 L735.79 120.2 L734.81 120.14 L733.82 120.09 L732.83 120.03 L731.85 119.98 L730.86 119.92 L729.88 119.87 L728.89 119.81 L727.91 119.75 L726.92 119.69 L725.94 119.63 L724.95 119.57 L723.97 119.52 L722.98 119.46 L721.99 119.4 L721.01 119.34 L720.02 119.27 L719.04 119.21 L718.05 119.15 L717.07 119.09 L716.08 119.03 L715.1 118.96 L714.11 118.9 L713.13 118.84 L712.14 118.77 L711.16 118.71 L710.17 118.65 L709.19 118.58 L708.2 118.52 L707.22 118.45 L706.23 118.39 L705.25 118.32 L704.26 118.26 L703.28 118.19 L702.29 118.12 L701.31 118.06 L700.32 117.99 L699.34 117.93 L698.35 117.86 L697.37 117.79 L696.38 117.73 L695.4 117.66 L694.41 117.59 L693.43 117.52 L692.44 117.46 L691.46 117.39 L690.47 117.32 L689.49 117.26 L688.5 117.19 L687.52 117.12 L686.53 117.05 L685.55 116.99 L684.56 116.92 L683.58 116.85 L682.59 116.78 L681.61 116.71 L680.62 116.65 L679.64 116.58 L678.65 116.51 L677.67 116.44 L676.68 116.38 L675.7 116.31 L674.71 116.24 L673.73 116.18 L672.74 116.11 L671.76 116.04 L670.77 115.98 L669.79 115.91 L668.81 115.84 L667.82 115.78 L666.84 115.71 L665.85 115.65 L664.87 115.58 L663.88 115.51 L662.9 115.45 L661.91 115.38 L660.93 115.32 L659.94 115.26 L658.95 115.19 L657.97 115.13 L656.98 115.06 L656 115 L655.01 114.94 L654.03 114.87 L653.04 114.81 L652.06 114.75 L651.07 114.69 L650.09 114.63 L649.1 114.57 L648.12 114.5 L647.13 114.44 L646.15 114.38 L645.16 114.33 L644.18 114.27 L643.19 114.21 L642.21 114.15 L641.22 114.09 L640.23 114.03 L639.25 113.98 L638.26 113.92 L637.28 113.86 L636.29 113.81 L635.31 113.75 L634.32 113.7 L633.34 113.65 L632.35 113.59 L631.36 113.54 L630.38 113.49 L629.39 113.44 L628.41 113.39 L627.42 113.33 L626.44 113.28 L625.45 113.24 L624.46 113.19 L623.48 113.14 L622.49 113.09 L621.51 113.04 L620.52 113 L619.53 112.95 L618.55 112.91 L617.56 112.86 L616.57 112.82 L615.59 112.78 L614.6 112.74 L613.61 112.69 L612.63 112.65 L611.64 112.61 L610.66 112.58 L609.67 112.54 L608.68 112.5 L607.7 112.46 L606.71 112.43 L605.72 112.39 L604.73 112.36 L603.75 112.32 L602.76 112.29 L601.77 112.26 L600.79 112.23 L599.8 112.2Z" fill="#d4d4d4"/>
<clipPath id="cb3"><path d="M599.8 90.97 L600.79 90.97 L601.77 90.98 L602.76 90.98 L603.74 90.98 L604.73 90.99 L605.72 90.99 L606.7 90.99 L607.69 90.99 L608.68 90.99 L609.66 90.99 L610.65 90.99 L611.64 90.99 L612.62 90.99 L613.61 90.99 L614.59 90.99 L615.58 90.99 L616.57 90.98 L617.55 90.98 L618.54 90.97 L619.53 90.97 L620.51 90.96 L621.5 90.96 L622.48 90.95 L623.47 90.95 L624.46 90.94 L625.44 90.93 L626.43 90.92 L627.42 90.91 L628.4 90.91 L629.39 90.9 L630.37 90.89 L631.36 90.88 L632.35 90.86 L633.33 90.85 L634.32 90.84 L635.3 90.83 L636.29 90.82 L637.28 90.8 L638.26 90.79 L639.25 90.77 L640.23 90.76 L641.22 90.74 L642.21 90.73 L643.19 90.71 L644.18 90.69 L645.16 90.68 L646.15 90.66 L647.14 90.64 L648.12 90.62 L649.11 90.6 L650.09 90.59 L651.08 90.57 L652.06 90.55 L653.05 90.52 L654.04 90.5 L655.02 90.48 L656.01 90.46 L656.99 90.44 L657.98 90.41 L658.97 90.39 L659.95 90.37 L660.94 90.34 L661.92 90.32 L662.91 90.29 L663.89 90.27 L664.88 90.24 L665.86 90.22 L666.85 90.19 L667.84 90.16 L668.82 90.13 L669.81 90.11 L670.79 90.08 L671.78 90.05 L672.76 90.02 L673.75 89.99 L674.74 89.96 L675.72 89.93 L676.71 89.9 L677.69 89.87 L678.68 89.84 L679.66 89.81 L680.65 89.77 L681.63 89.74 L682.62 89.71 L683.6 89.67 L684.59 89.64 L685.58 89.61 L686.56 89.57 L687.55 89.54 L688.53 89.5 L689.52 89.46 L690.5 89.43 L691.49 89.39 L692.47 89.36 L693.46 89.32 L694.44 89.28 L695.43 89.24 L696.41 89.2 L697.4 89.17 L698.39 89.13 L699.37 89.09 L700.36 89.05 L701.34 89.01 L702.33 88.97 L703.31 88.93 L704.3 88.89 L705.28 88.84 L706.27 88.8 L707.25 88.76 L708.24 88.72 L709.22 88.67 L710.21 88.63 L711.19 88.59 L712.18 88.54 L713.16 88.5 L714.15 88.45 L715.13 88.41 L716.12 88.36 L717.1 88.32 L718.09 88.27 L719.07 88.23 L720.06 88.18 L721.04 88.13 L722.03 88.09 L723.01 88.04 L724 87.99 L724.98 87.94 L725.97 87.9 L726.95 87.85 L727.94 87.8 L728.92 87.75 L729.91 87.7 L730.89 87.65 L731.88 87.6 L732.86 87.55 L733.85 87.5 L734.83 87.45 L735.82 87.4 L736.8 87.34 L737.79 87.29 L738.77 87.24 L739.76 87.19 L740.74 87.14 L741.73 87.08 L742.71 87.03 L743.7 86.98 L744.68 86.92 L745.67 86.87 L746.65 86.81 L747.64 86.76 L748.62 86.7 L749.61 86.65 L750.59 86.59 L751.58 86.54 L752.56 86.48 L753.54 86.43 L754.53 86.37 L755.51 86.31 L756.5 86.26 L756.5 121.2 L755.51 121.16 L754.53 121.12 L753.54 121.07 L752.55 121.03 L751.57 120.99 L750.58 120.94 L749.6 120.9 L748.61 120.85 L747.62 120.81 L746.64 120.76 L745.65 120.71 L744.66 120.66 L743.68 120.61 L742.69 120.56 L741.71 120.51 L740.72 120.46 L739.73 120.41 L738.75 120.36 L737.76 120.31 L736.78 120.25 L735.79 120.2 L734.81 120.14 L733.82 120.09 L732.83 120.03 L731.85 119.98 L730.86 119.92 L729.88 119.87 L728.89 119.81 L727.91 119.75 L726.92 119.69 L725.94 119.63 L724.95 119.57 L723.97 119.52 L722.98 119.46 L721.99 119.4 L721.01 119.34 L720.02 119.27 L719.04 119.21 L718.05 119.15 L717.07 119.09 L716.08 119.03 L715.1 118.96 L714.11 118.9 L713.13 118.84 L712.14 118.77 L711.16 118.71 L710.17 118.65 L709.19 118.58 L708.2 118.52 L707.22 118.45 L706.23 118.39 L705.25 118.32 L704.26 118.26 L703.28 118.19 L702.29 118.12 L701.31 118.06 L700.32 117.99 L699.34 117.93 L698.35 117.86 L697.37 117.79 L696.38 117.73 L695.4 117.66 L694.41 117.59 L693.43 117.52 L692.44 117.46 L691.46 117.39 L690.47 117.32 L689.49 117.26 L688.5 117.19 L687.52 117.12 L686.53 117.05 L685.55 116.99 L684.56 116.92 L683.58 116.85 L682.59 116.78 L681.61 116.71 L680.62 116.65 L679.64 116.58 L678.65 116.51 L677.67 116.44 L676.68 116.38 L675.7 116.31 L674.71 116.24 L673.73 116.18 L672.74 116.11 L671.76 116.04 L670.77 115.98 L669.79 115.91 L668.81 115.84 L667.82 115.78 L666.84 115.71 L665.85 115.65 L664.87 115.58 L663.88 115.51 L662.9 115.45 L661.91 115.38 L660.93 115.32 L659.94 115.26 L658.95 115.19 L657.97 115.13 L656.98 115.06 L656 115 L655.01 114.94 L654.03 114.87 L653.04 114.81 L652.06 114.75 L651.07 114.69 L650.09 114.63 L649.1 114.57 L648.12 114.5 L647.13 114.44 L646.15 114.38 L645.16 114.33 L644.18 114.27 L643.19 114.21 L642.21 114.15 L641.22 114.09 L640.23 114.03 L639.25 113.98 L638.26 113.92 L637.28 113.86 L636.29 113.81 L635.31 113.75 L634.32 113.7 L633.34 113.65 L632.35 113.59 L631.36 113.54 L630.38 113.49 L629.39 113.44 L628.41 113.39 L627.42 113.33 L626.44 113.28 L625.45 113.24 L624.46 113.19 L623.48 113.14 L622.49 113.09 L621.51 113.04 L620.52 113 L619.53 112.95 L618.55 112.91 L617.56 112.86 L616.57 112.82 L615.59 112.78 L614.6 112.74 L613.61 112.69 L612.63 112.65 L611.64 112.61 L610.66 112.58 L609.67 112.54 L608.68 112.5 L607.7 112.46 L606.71 112.43 L605.72 112.39 L604.73 112.36 L603.75 112.32 L602.76 112.29 L601.77 112.26 L600.79 112.23 L599.8 112.2Z"/></clipPath>
<path clip-path="url(#cb3)" d="M602.36 85.26V122.2 M605.58 85.26V122.2 M608.79 85.26V122.2 M612.01 85.26V122.2 M615.22 85.26V122.2 M618.43 85.26V122.2 M621.65 85.26V122.2 M624.86 85.26V122.2 M628.08 85.26V122.2 M631.29 85.26V122.2 M634.5 85.26V122.2 M637.72 85.26V122.2 M640.93 85.26V122.2 M644.15 85.26V122.2 M647.36 85.26V122.2 M650.57 85.26V122.2 M653.79 85.26V122.2 M657 85.26V122.2 M660.22 85.26V122.2 M663.43 85.26V122.2 M666.64 85.26V122.2 M669.86 85.26V122.2 M673.07 85.26V122.2 M676.29 85.26V122.2 M679.5 85.26V122.2 M682.71 85.26V122.2 M685.93 85.26V122.2 M689.14 85.26V122.2 M692.36 85.26V122.2 M695.57 85.26V122.2 M698.78 85.26V122.2 M702 85.26V122.2 M705.21 85.26V122.2 M708.43 85.26V122.2 M711.64 85.26V122.2 M714.85 85.26V122.2 M718.07 85.26V122.2 M721.28 85.26V122.2 M724.5 85.26V122.2 M727.71 85.26V122.2 M730.92 85.26V122.2 M734.14 85.26V122.2 M737.35 85.26V122.2 M740.57 85.26V122.2 M743.78 85.26V122.2 M746.99 85.26V122.2 M750.21 85.26V122.2 M753.42 85.26V122.2" stroke="#ffffff" stroke-opacity="0.16" stroke-width="0.7" fill="none"/>
<path d="M103 281.5 L103.67 281.83 L104.46 282.15 L105.25 282.47 L106.04 282.78 L106.83 283.09 L107.62 283.4 L108.42 283.7 L109.22 284 L110.01 284.29 L110.81 284.58 L111.61 284.87 L112.41 285.15 L113.22 285.43 L114.02 285.7 L114.83 285.97 L115.63 286.24 L116.44 286.5 L117.25 286.76 L118.06 287.02 L118.87 287.27 L119.68 287.52 L120.49 287.76 L121.3 288 L122.12 288.24 L122.93 288.47 L123.75 288.7 L124.57 288.93 L125.39 289.15 L126.21 289.37 L127.03 289.58 L127.85 289.79 L128.67 290 L129.49 290.2 L130.32 290.4 L131.14 290.6 L131.97 290.79 L132.8 290.98 L133.62 291.17 L134.45 291.35 L135.28 291.53 L136.11 291.71 L136.94 291.88 L137.77 292.05 L138.61 292.22 L139.44 292.38 L140.27 292.54 L141.11 292.69 L141.94 292.85 L142.78 293 L143.62 293.14 L144.46 293.29 L145.29 293.43 L146.13 293.56 L146.97 293.7 L147.81 293.83 L148.65 293.95 L149.49 294.08 L150.34 294.2 L151.18 294.32 L152.02 294.43 L152.86 294.54 L153.71 294.65 L154.55 294.76 L155.4 294.86 L156.24 294.96 L157.09 295.06 L157.94 295.15 L158.78 295.24 L159.63 295.33 L160.48 295.42 L161.33 295.5 L162.18 295.58 L163.03 295.66 L163.88 295.73 L164.72 295.8 L165.58 295.87 L166.43 295.94 L167.28 296 L168.13 296.06 L168.98 296.12 L169.83 296.17 L170.68 296.23 L171.54 296.28 L172.39 296.32 L173.24 296.37 L174.09 296.41 L174.95 296.45 L175.8 296.49 L176.65 296.52 L177.51 296.55 L178.36 296.58 L179.21 296.61 L180.07 296.63 L180.92 296.66 L181.78 296.68 L182.63 296.69 L183.49 296.71 L184.34 296.72 L185.2 296.73 L186.05 296.74 L186.9 296.74 L187.76 296.75 L188.61 296.75 L189.47 296.75 L190.32 296.74 L191.18 296.74 L192.03 296.73 L192.89 296.72 L193.74 296.71 L194.59 296.7 L195.45 296.68 L196.3 296.66 L197.16 296.64 L198.01 296.62 L198.86 296.59 L199.72 296.57 L200.57 296.54 L201.42 296.51 L202.28 296.47 L203.13 296.44 L203.98 296.4 L204.83 296.37 L205.68 296.33 L206.54 296.28 L207.39 296.24 L208.24 296.19 L209.09 296.15 L209.94 296.1 L210.79 296.05 L211.64 295.99 L212.49 295.94 L213.34 295.88 L214.18 295.82 L215.03 295.76 L215.88 295.7 L216.73 295.64 L217.57 295.57 L218.42 295.51 L219.26 295.44 L220.11 295.37 L220.95 295.3 L221.8 295.23 L222.64 295.15 L223.48 295.08 L224.33 295 L225.17 294.92 L226.01 294.84 L226.85 294.76 L227.69 294.68 L228.53 294.59 L229.37 294.51 L230.21 294.42 L231.04 294.33 L231.88 294.24 L232.72 294.15 L233.55 294.06 L234.39 293.96 L235.22 293.87 L236.05 293.77 L236.1 310.4 L235.25 310.42 L234.4 310.42 L233.55 310.43 L232.69 310.43 L231.84 310.42 L230.99 310.41 L230.14 310.4 L229.29 310.38 L228.44 310.36 L227.6 310.34 L226.75 310.32 L225.9 310.29 L225.05 310.25 L224.2 310.22 L223.35 310.18 L222.5 310.14 L221.66 310.09 L220.81 310.04 L219.96 309.99 L219.11 309.94 L218.27 309.88 L217.42 309.83 L216.57 309.77 L215.73 309.7 L214.88 309.64 L214.03 309.57 L213.19 309.5 L212.34 309.43 L211.5 309.36 L210.65 309.29 L209.8 309.21 L208.96 309.13 L208.11 309.06 L207.27 308.98 L206.42 308.89 L205.58 308.81 L204.73 308.73 L203.88 308.64 L203.04 308.56 L202.19 308.47 L201.35 308.38 L200.5 308.3 L199.66 308.21 L198.81 308.12 L197.97 308.03 L197.12 307.94 L196.28 307.85 L195.43 307.76 L194.58 307.67 L193.74 307.58 L192.89 307.49 L192.05 307.4 L191.2 307.31 L190.36 307.22 L189.51 307.13 L188.66 307.04 L187.82 306.95 L186.97 306.86 L186.12 306.78 L185.28 306.69 L184.43 306.61 L183.59 306.52 L182.74 306.44 L181.89 306.36 L181.04 306.28 L180.2 306.2 L179.35 306.12 L178.5 306.05 L177.65 305.97 L176.81 305.9 L175.96 305.83 L175.11 305.76 L174.26 305.69 L173.41 305.63 L172.56 305.56 L171.71 305.49 L170.87 305.42 L170.02 305.35 L169.17 305.28 L168.33 305.21 L167.48 305.13 L166.64 305.04 L165.8 304.96 L164.96 304.86 L164.12 304.76 L163.28 304.66 L162.44 304.54 L161.61 304.42 L160.78 304.29 L159.95 304.15 L159.12 304.01 L158.29 303.85 L157.47 303.68 L156.65 303.5 L155.83 303.3 L155.02 303.1 L154.2 302.88 L153.39 302.65 L152.59 302.42 L151.78 302.17 L150.98 301.92 L150.17 301.66 L149.37 301.39 L148.57 301.12 L147.77 300.84 L146.97 300.57 L146.17 300.28 L145.37 300 L144.57 299.72 L143.77 299.44 L142.96 299.16 L142.16 298.88 L141.36 298.6 L140.55 298.33 L139.74 298.06 L138.93 297.8 L138.12 297.54 L137.31 297.29 L136.5 297.03 L135.69 296.78 L134.87 296.54 L134.06 296.29 L133.24 296.05 L132.43 295.8 L131.61 295.56 L130.8 295.32 L129.98 295.07 L129.17 294.83 L128.35 294.58 L127.54 294.34 L126.73 294.09 L125.92 293.84 L125.11 293.58 L124.3 293.32 L123.49 293.06 L122.69 292.8 L121.88 292.53 L121.08 292.26 L120.28 291.98 L119.48 291.69 L118.69 291.4 L117.9 291.1 L117.11 290.8 L116.32 290.48 L115.54 290.16 L114.76 289.84 L113.98 289.5 L113.21 289.15 L112.44 288.8 L111.67 288.43 L110.91 288.06 L110.16 287.67 L109.4 287.27 L108.66 286.86 L107.91 286.44 L107.17 286.01 L106.44 285.56 L105.71 285.1 L105 284.63Z" fill="#d4d4d4"/>
<clipPath id="cb4"><path d="M103 281.5 L103.67 281.83 L104.46 282.15 L105.25 282.47 L106.04 282.78 L106.83 283.09 L107.62 283.4 L108.42 283.7 L109.22 284 L110.01 284.29 L110.81 284.58 L111.61 284.87 L112.41 285.15 L113.22 285.43 L114.02 285.7 L114.83 285.97 L115.63 286.24 L116.44 286.5 L117.25 286.76 L118.06 287.02 L118.87 287.27 L119.68 287.52 L120.49 287.76 L121.3 288 L122.12 288.24 L122.93 288.47 L123.75 288.7 L124.57 288.93 L125.39 289.15 L126.21 289.37 L127.03 289.58 L127.85 289.79 L128.67 290 L129.49 290.2 L130.32 290.4 L131.14 290.6 L131.97 290.79 L132.8 290.98 L133.62 291.17 L134.45 291.35 L135.28 291.53 L136.11 291.71 L136.94 291.88 L137.77 292.05 L138.61 292.22 L139.44 292.38 L140.27 292.54 L141.11 292.69 L141.94 292.85 L142.78 293 L143.62 293.14 L144.46 293.29 L145.29 293.43 L146.13 293.56 L146.97 293.7 L147.81 293.83 L148.65 293.95 L149.49 294.08 L150.34 294.2 L151.18 294.32 L152.02 294.43 L152.86 294.54 L153.71 294.65 L154.55 294.76 L155.4 294.86 L156.24 294.96 L157.09 295.06 L157.94 295.15 L158.78 295.24 L159.63 295.33 L160.48 295.42 L161.33 295.5 L162.18 295.58 L163.03 295.66 L163.88 295.73 L164.72 295.8 L165.58 295.87 L166.43 295.94 L167.28 296 L168.13 296.06 L168.98 296.12 L169.83 296.17 L170.68 296.23 L171.54 296.28 L172.39 296.32 L173.24 296.37 L174.09 296.41 L174.95 296.45 L175.8 296.49 L176.65 296.52 L177.51 296.55 L178.36 296.58 L179.21 296.61 L180.07 296.63 L180.92 296.66 L181.78 296.68 L182.63 296.69 L183.49 296.71 L184.34 296.72 L185.2 296.73 L186.05 296.74 L186.9 296.74 L187.76 296.75 L188.61 296.75 L189.47 296.75 L190.32 296.74 L191.18 296.74 L192.03 296.73 L192.89 296.72 L193.74 296.71 L194.59 296.7 L195.45 296.68 L196.3 296.66 L197.16 296.64 L198.01 296.62 L198.86 296.59 L199.72 296.57 L200.57 296.54 L201.42 296.51 L202.28 296.47 L203.13 296.44 L203.98 296.4 L204.83 296.37 L205.68 296.33 L206.54 296.28 L207.39 296.24 L208.24 296.19 L209.09 296.15 L209.94 296.1 L210.79 296.05 L211.64 295.99 L212.49 295.94 L213.34 295.88 L214.18 295.82 L215.03 295.76 L215.88 295.7 L216.73 295.64 L217.57 295.57 L218.42 295.51 L219.26 295.44 L220.11 295.37 L220.95 295.3 L221.8 295.23 L222.64 295.15 L223.48 295.08 L224.33 295 L225.17 294.92 L226.01 294.84 L226.85 294.76 L227.69 294.68 L228.53 294.59 L229.37 294.51 L230.21 294.42 L231.04 294.33 L231.88 294.24 L232.72 294.15 L233.55 294.06 L234.39 293.96 L235.22 293.87 L236.05 293.77 L236.1 310.4 L235.25 310.42 L234.4 310.42 L233.55 310.43 L232.69 310.43 L231.84 310.42 L230.99 310.41 L230.14 310.4 L229.29 310.38 L228.44 310.36 L227.6 310.34 L226.75 310.32 L225.9 310.29 L225.05 310.25 L224.2 310.22 L223.35 310.18 L222.5 310.14 L221.66 310.09 L220.81 310.04 L219.96 309.99 L219.11 309.94 L218.27 309.88 L217.42 309.83 L216.57 309.77 L215.73 309.7 L214.88 309.64 L214.03 309.57 L213.19 309.5 L212.34 309.43 L211.5 309.36 L210.65 309.29 L209.8 309.21 L208.96 309.13 L208.11 309.06 L207.27 308.98 L206.42 308.89 L205.58 308.81 L204.73 308.73 L203.88 308.64 L203.04 308.56 L202.19 308.47 L201.35 308.38 L200.5 308.3 L199.66 308.21 L198.81 308.12 L197.97 308.03 L197.12 307.94 L196.28 307.85 L195.43 307.76 L194.58 307.67 L193.74 307.58 L192.89 307.49 L192.05 307.4 L191.2 307.31 L190.36 307.22 L189.51 307.13 L188.66 307.04 L187.82 306.95 L186.97 306.86 L186.12 306.78 L185.28 306.69 L184.43 306.61 L183.59 306.52 L182.74 306.44 L181.89 306.36 L181.04 306.28 L180.2 306.2 L179.35 306.12 L178.5 306.05 L177.65 305.97 L176.81 305.9 L175.96 305.83 L175.11 305.76 L174.26 305.69 L173.41 305.63 L172.56 305.56 L171.71 305.49 L170.87 305.42 L170.02 305.35 L169.17 305.28 L168.33 305.21 L167.48 305.13 L166.64 305.04 L165.8 304.96 L164.96 304.86 L164.12 304.76 L163.28 304.66 L162.44 304.54 L161.61 304.42 L160.78 304.29 L159.95 304.15 L159.12 304.01 L158.29 303.85 L157.47 303.68 L156.65 303.5 L155.83 303.3 L155.02 303.1 L154.2 302.88 L153.39 302.65 L152.59 302.42 L151.78 302.17 L150.98 301.92 L150.17 301.66 L149.37 301.39 L148.57 301.12 L147.77 300.84 L146.97 300.57 L146.17 300.28 L145.37 300 L144.57 299.72 L143.77 299.44 L142.96 299.16 L142.16 298.88 L141.36 298.6 L140.55 298.33 L139.74 298.06 L138.93 297.8 L138.12 297.54 L137.31 297.29 L136.5 297.03 L135.69 296.78 L134.87 296.54 L134.06 296.29 L133.24 296.05 L132.43 295.8 L131.61 295.56 L130.8 295.32 L129.98 295.07 L129.17 294.83 L128.35 294.58 L127.54 294.34 L126.73 294.09 L125.92 293.84 L125.11 293.58 L124.3 293.32 L123.49 293.06 L122.69 292.8 L121.88 292.53 L121.08 292.26 L120.28 291.98 L119.48 291.69 L118.69 291.4 L117.9 291.1 L117.11 290.8 L116.32 290.48 L115.54 290.16 L114.76 289.84 L113.98 289.5 L113.21 289.15 L112.44 288.8 L111.67 288.43 L110.91 288.06 L110.16 287.67 L109.4 287.27 L108.66 286.86 L107.91 286.44 L107.17 286.01 L106.44 285.56 L105.71 285.1 L105 284.63Z"/></clipPath>
<path clip-path="url(#cb4)" d="M104.01 280.5V311.43 M107.23 280.5V311.43 M110.44 280.5V311.43 M113.65 280.5V311.43 M116.87 280.5V311.43 M120.08 280.5V311.43 M123.3 280.5V311.43 M126.51 280.5V311.43 M129.72 280.5V311.43 M132.94 280.5V311.43 M136.15 280.5V311.43 M139.37 280.5V311.43 M142.58 280.5V311.43 M145.79 280.5V311.43 M149.01 280.5V311.43 M152.22 280.5V311.43 M155.44 280.5V311.43 M158.65 280.5V311.43 M161.86 280.5V311.43 M165.08 280.5V311.43 M168.29 280.5V311.43 M171.51 280.5V311.43 M174.72 280.5V311.43 M177.93 280.5V311.43 M181.15 280.5V311.43 M184.36 280.5V311.43 M187.58 280.5V311.43 M190.79 280.5V311.43 M194 280.5V311.43 M197.22 280.5V311.43 M200.43 280.5V311.43 M203.65 280.5V311.43 M206.86 280.5V311.43 M210.07 280.5V311.43 M213.29 280.5V311.43 M216.5 280.5V311.43 M219.72 280.5V311.43 M222.93 280.5V311.43 M226.14 280.5V311.43 M229.36 280.5V311.43 M232.57 280.5V311.43" stroke="#ffffff" stroke-opacity="0.16" stroke-width="0.7" fill="none"/>
<path d="M339.72 284.12 L340.78 284.11 L341.82 284.06 L342.86 283.98 L343.88 283.86 L344.88 283.7 L345.88 283.51 L346.87 283.29 L347.85 283.04 L348.82 282.76 L349.78 282.45 L350.73 282.12 L351.67 281.77 L352.61 281.39 L353.54 280.99 L354.46 280.57 L355.38 280.13 L356.29 279.68 L357.2 279.21 L358.11 278.73 L359.01 278.23 L359.9 277.73 L360.8 277.21 L361.69 276.69 L362.58 276.17 L363.47 275.63 L364.36 275.1 L365.25 274.57 L366.14 274.03 L367.03 273.5 L367.93 272.97 L368.82 272.44 L369.72 271.92 L370.62 271.41 L371.52 270.91 L372.43 270.42 L373.34 269.94 L374.26 269.46 L375.18 269 L376.1 268.55 L377.03 268.1 L377.96 267.66 L378.89 267.23 L379.82 266.81 L380.76 266.39 L381.7 265.98 L382.64 265.57 L383.59 265.17 L384.53 264.77 L385.48 264.38 L386.44 264 L387.39 263.61 L388.35 263.23 L389.3 262.86 L390.26 262.48 L391.22 262.11 L392.18 261.74 L393.15 261.37 L394.11 261.01 L395.08 260.65 L396.04 260.29 L397.01 259.93 L397.98 259.58 L398.95 259.24 L399.93 258.89 L400.9 258.55 L401.87 258.21 L402.85 257.88 L403.83 257.55 L404.81 257.23 L405.79 256.91 L406.77 256.6 L407.75 256.29 L408.74 255.98 L409.72 255.68 L410.71 255.39 L411.7 255.09 L412.69 254.81 L413.68 254.53 L414.67 254.25 L415.66 253.98 L416.66 253.71 L417.65 253.44 L418.65 253.18 L419.64 252.93 L420.64 252.67 L421.64 252.43 L422.64 252.18 L423.64 251.95 L424.64 251.71 L425.64 251.48 L426.65 251.26 L427.65 251.03 L428.66 250.82 L429.66 250.6 L430.67 250.39 L431.68 250.19 L432.69 249.99 L433.7 249.79 L434.71 249.59 L435.72 249.4 L436.73 249.22 L437.75 249.04 L438.76 248.86 L439.77 248.68 L440.79 248.51 L441.8 248.35 L442.82 248.18 L443.84 248.02 L444.85 247.87 L445.87 247.72 L446.89 247.57 L447.91 247.42 L448.93 247.28 L449.95 247.14 L450.97 247.01 L452 246.88 L453.02 246.75 L454.04 246.63 L455.06 246.51 L456.09 246.39 L457.11 246.28 L458.14 246.17 L459.16 246.06 L460.19 245.96 L461.21 245.86 L462.24 245.76 L463.27 245.66 L464.29 245.57 L465.32 245.49 L466.35 245.4 L467.37 245.32 L468.4 245.24 L469.43 245.17 L470.46 245.09 L471.49 245.02 L472.52 244.96 L473.55 244.89 L474.58 244.83 L475.61 244.78 L476.64 244.72 L477.66 244.67 L478.69 244.62 L479.72 244.57 L480.75 244.53 L481.78 244.49 L482.82 244.45 L483.85 244.41 L484.88 244.38 L485.91 244.35 L486.94 244.32 L487.97 244.3 L489 244.28 L490.03 244.25 L491.06 244.24 L492.09 244.22 L493.12 244.21 L494.15 244.2 L495.17 244.19 L496.2 244.18 L496.19 292.65 L495.33 292.18 L494.46 291.69 L493.59 291.19 L492.71 290.68 L491.84 290.15 L490.96 289.62 L490.08 289.08 L489.2 288.54 L488.31 287.99 L487.43 287.45 L486.53 286.9 L485.64 286.36 L484.74 285.82 L483.84 285.29 L482.93 284.77 L482.02 284.26 L481.11 283.76 L480.19 283.28 L479.27 282.81 L478.34 282.35 L477.41 281.91 L476.47 281.48 L475.54 281.06 L474.59 280.65 L473.65 280.26 L472.7 279.88 L471.74 279.52 L470.79 279.16 L469.83 278.82 L468.86 278.48 L467.9 278.16 L466.93 277.85 L465.95 277.55 L464.98 277.26 L464 276.98 L463.02 276.71 L462.04 276.45 L461.05 276.19 L460.06 275.95 L459.07 275.72 L458.08 275.49 L457.08 275.28 L456.08 275.07 L455.08 274.86 L454.08 274.67 L453.08 274.48 L452.07 274.3 L451.06 274.13 L450.06 273.97 L449.05 273.81 L448.03 273.65 L447.02 273.5 L446.01 273.36 L444.99 273.23 L443.97 273.1 L442.96 272.98 L441.94 272.86 L440.92 272.75 L439.89 272.65 L438.87 272.55 L437.85 272.46 L436.83 272.37 L435.8 272.29 L434.78 272.22 L433.75 272.15 L432.72 272.09 L431.7 272.03 L430.67 271.98 L429.64 271.93 L428.61 271.9 L427.58 271.86 L426.56 271.84 L425.53 271.81 L424.5 271.8 L423.47 271.79 L422.44 271.78 L421.41 271.79 L420.38 271.79 L419.35 271.81 L418.32 271.83 L417.3 271.85 L416.27 271.88 L415.24 271.92 L414.21 271.96 L413.19 272 L412.16 272.05 L411.14 272.11 L410.11 272.18 L409.09 272.24 L408.07 272.32 L407.04 272.4 L406.02 272.48 L405 272.57 L403.98 272.67 L402.97 272.77 L401.95 272.87 L400.93 272.98 L399.92 273.1 L398.91 273.22 L397.9 273.35 L396.89 273.49 L395.88 273.63 L394.87 273.78 L393.87 273.94 L392.87 274.11 L391.87 274.3 L390.88 274.49 L389.88 274.7 L388.9 274.92 L387.91 275.16 L386.93 275.42 L385.95 275.69 L384.98 275.97 L384 276.28 L383.04 276.59 L382.07 276.92 L381.11 277.26 L380.14 277.61 L379.18 277.96 L378.22 278.33 L377.26 278.7 L376.3 279.08 L375.34 279.46 L374.38 279.84 L373.42 280.22 L372.46 280.6 L371.49 280.99 L370.53 281.37 L369.56 281.74 L368.59 282.11 L367.61 282.48 L366.64 282.84 L365.66 283.18 L364.68 283.52 L363.69 283.85 L362.71 284.17 L361.72 284.47 L360.73 284.76 L359.74 285.03 L358.75 285.28 L357.75 285.52 L356.76 285.73 L355.76 285.93 L354.76 286.1 L353.75 286.25 L352.75 286.38 L351.75 286.48 L350.74 286.55 L349.73 286.59 L348.72 286.6 L347.71 286.58 L346.7 286.52 L345.7 286.43 L344.69 286.29 L343.68 286.12 L342.67 285.9 L341.67 285.63 L340.67 285.32 L339.7 284.96Z" fill="#d4d4d4"/>
<clipPath id="cb5"><path d="M339.72 284.12 L340.78 284.11 L341.82 284.06 L342.86 283.98 L343.88 283.86 L344.88 283.7 L345.88 283.51 L346.87 283.29 L347.85 283.04 L348.82 282.76 L349.78 282.45 L350.73 282.12 L351.67 281.77 L352.61 281.39 L353.54 280.99 L354.46 280.57 L355.38 280.13 L356.29 279.68 L357.2 279.21 L358.11 278.73 L359.01 278.23 L359.9 277.73 L360.8 277.21 L361.69 276.69 L362.58 276.17 L363.47 275.63 L364.36 275.1 L365.25 274.57 L366.14 274.03 L367.03 273.5 L367.93 272.97 L368.82 272.44 L369.72 271.92 L370.62 271.41 L371.52 270.91 L372.43 270.42 L373.34 269.94 L374.26 269.46 L375.18 269 L376.1 268.55 L377.03 268.1 L377.96 267.66 L378.89 267.23 L379.82 266.81 L380.76 266.39 L381.7 265.98 L382.64 265.57 L383.59 265.17 L384.53 264.77 L385.48 264.38 L386.44 264 L387.39 263.61 L388.35 263.23 L389.3 262.86 L390.26 262.48 L391.22 262.11 L392.18 261.74 L393.15 261.37 L394.11 261.01 L395.08 260.65 L396.04 260.29 L397.01 259.93 L397.98 259.58 L398.95 259.24 L399.93 258.89 L400.9 258.55 L401.87 258.21 L402.85 257.88 L403.83 257.55 L404.81 257.23 L405.79 256.91 L406.77 256.6 L407.75 256.29 L408.74 255.98 L409.72 255.68 L410.71 255.39 L411.7 255.09 L412.69 254.81 L413.68 254.53 L414.67 254.25 L415.66 253.98 L416.66 253.71 L417.65 253.44 L418.65 253.18 L419.64 252.93 L420.64 252.67 L421.64 252.43 L422.64 252.18 L423.64 251.95 L424.64 251.71 L425.64 251.48 L426.65 251.26 L427.65 251.03 L428.66 250.82 L429.66 250.6 L430.67 250.39 L431.68 250.19 L432.69 249.99 L433.7 249.79 L434.71 249.59 L435.72 249.4 L436.73 249.22 L437.75 249.04 L438.76 248.86 L439.77 248.68 L440.79 248.51 L441.8 248.35 L442.82 248.18 L443.84 248.02 L444.85 247.87 L445.87 247.72 L446.89 247.57 L447.91 247.42 L448.93 247.28 L449.95 247.14 L450.97 247.01 L452 246.88 L453.02 246.75 L454.04 246.63 L455.06 246.51 L456.09 246.39 L457.11 246.28 L458.14 246.17 L459.16 246.06 L460.19 245.96 L461.21 245.86 L462.24 245.76 L463.27 245.66 L464.29 245.57 L465.32 245.49 L466.35 245.4 L467.37 245.32 L468.4 245.24 L469.43 245.17 L470.46 245.09 L471.49 245.02 L472.52 244.96 L473.55 244.89 L474.58 244.83 L475.61 244.78 L476.64 244.72 L477.66 244.67 L478.69 244.62 L479.72 244.57 L480.75 244.53 L481.78 244.49 L482.82 244.45 L483.85 244.41 L484.88 244.38 L485.91 244.35 L486.94 244.32 L487.97 244.3 L489 244.28 L490.03 244.25 L491.06 244.24 L492.09 244.22 L493.12 244.21 L494.15 244.2 L495.17 244.19 L496.2 244.18 L496.19 292.65 L495.33 292.18 L494.46 291.69 L493.59 291.19 L492.71 290.68 L491.84 290.15 L490.96 289.62 L490.08 289.08 L489.2 288.54 L488.31 287.99 L487.43 287.45 L486.53 286.9 L485.64 286.36 L484.74 285.82 L483.84 285.29 L482.93 284.77 L482.02 284.26 L481.11 283.76 L480.19 283.28 L479.27 282.81 L478.34 282.35 L477.41 281.91 L476.47 281.48 L475.54 281.06 L474.59 280.65 L473.65 280.26 L472.7 279.88 L471.74 279.52 L470.79 279.16 L469.83 278.82 L468.86 278.48 L467.9 278.16 L466.93 277.85 L465.95 277.55 L464.98 277.26 L464 276.98 L463.02 276.71 L462.04 276.45 L461.05 276.19 L460.06 275.95 L459.07 275.72 L458.08 275.49 L457.08 275.28 L456.08 275.07 L455.08 274.86 L454.08 274.67 L453.08 274.48 L452.07 274.3 L451.06 274.13 L450.06 273.97 L449.05 273.81 L448.03 273.65 L447.02 273.5 L446.01 273.36 L444.99 273.23 L443.97 273.1 L442.96 272.98 L441.94 272.86 L440.92 272.75 L439.89 272.65 L438.87 272.55 L437.85 272.46 L436.83 272.37 L435.8 272.29 L434.78 272.22 L433.75 272.15 L432.72 272.09 L431.7 272.03 L430.67 271.98 L429.64 271.93 L428.61 271.9 L427.58 271.86 L426.56 271.84 L425.53 271.81 L424.5 271.8 L423.47 271.79 L422.44 271.78 L421.41 271.79 L420.38 271.79 L419.35 271.81 L418.32 271.83 L417.3 271.85 L416.27 271.88 L415.24 271.92 L414.21 271.96 L413.19 272 L412.16 272.05 L411.14 272.11 L410.11 272.18 L409.09 272.24 L408.07 272.32 L407.04 272.4 L406.02 272.48 L405 272.57 L403.98 272.67 L402.97 272.77 L401.95 272.87 L400.93 272.98 L399.92 273.1 L398.91 273.22 L397.9 273.35 L396.89 273.49 L395.88 273.63 L394.87 273.78 L393.87 273.94 L392.87 274.11 L391.87 274.3 L390.88 274.49 L389.88 274.7 L388.9 274.92 L387.91 275.16 L386.93 275.42 L385.95 275.69 L384.98 275.97 L384 276.28 L383.04 276.59 L382.07 276.92 L381.11 277.26 L380.14 277.61 L379.18 277.96 L378.22 278.33 L377.26 278.7 L376.3 279.08 L375.34 279.46 L374.38 279.84 L373.42 280.22 L372.46 280.6 L371.49 280.99 L370.53 281.37 L369.56 281.74 L368.59 282.11 L367.61 282.48 L366.64 282.84 L365.66 283.18 L364.68 283.52 L363.69 283.85 L362.71 284.17 L361.72 284.47 L360.73 284.76 L359.74 285.03 L358.75 285.28 L357.75 285.52 L356.76 285.73 L355.76 285.93 L354.76 286.1 L353.75 286.25 L352.75 286.38 L351.75 286.48 L350.74 286.55 L349.73 286.59 L348.72 286.6 L347.71 286.58 L346.7 286.52 L345.7 286.43 L344.69 286.29 L343.68 286.12 L342.67 285.9 L341.67 285.63 L340.67 285.32 L339.7 284.96Z"/></clipPath>
<path clip-path="url(#cb5)" d="M342.21 243.18V293.65 M345.42 243.18V293.65 M348.63 243.18V293.65 M351.84 243.18V293.65 M355.06 243.18V293.65 M358.27 243.18V293.65 M361.48 243.18V293.65 M364.69 243.18V293.65 M367.9 243.18V293.65 M371.11 243.18V293.65 M374.32 243.18V293.65 M377.53 243.18V293.65 M380.74 243.18V293.65 M383.95 243.18V293.65 M387.17 243.18V293.65 M390.38 243.18V293.65 M393.59 243.18V293.65 M396.8 243.18V293.65 M400.01 243.18V293.65 M403.22 243.18V293.65 M406.43 243.18V293.65 M409.64 243.18V293.65 M412.85 243.18V293.65 M416.06 243.18V293.65 M419.27 243.18V293.65 M422.49 243.18V293.65 M425.7 243.18V293.65 M428.91 243.18V293.65 M432.12 243.18V293.65 M435.33 243.18V293.65 M438.54 243.18V293.65 M441.75 243.18V293.65 M444.96 243.18V293.65 M448.17 243.18V293.65 M451.38 243.18V293.65 M454.6 243.18V293.65 M457.81 243.18V293.65 M461.02 243.18V293.65 M464.23 243.18V293.65 M467.44 243.18V293.65 M470.65 243.18V293.65 M473.86 243.18V293.65 M477.07 243.18V293.65 M480.28 243.18V293.65 M483.5 243.18V293.65 M486.71 243.18V293.65 M489.92 243.18V293.65 M493.13 243.18V293.65" stroke="#ffffff" stroke-opacity="0.16" stroke-width="0.7" fill="none"/>
<path d="M78.4 114.55 L79.39 114.6 L80.38 114.64 L81.38 114.68 L82.37 114.72 L83.36 114.76 L84.35 114.8 L85.34 114.85 L86.33 114.89 L87.32 114.93 L88.32 114.97 L89.31 115.01 L90.3 115.05 L91.29 115.09 L92.28 115.13 L93.27 115.17 L94.27 115.21 L95.26 115.24 L96.25 115.28 L97.24 115.32 L98.23 115.36 L99.22 115.4 L100.22 115.43 L101.21 115.47 L102.2 115.51 L103.19 115.54 L104.18 115.58 L105.17 115.62 L106.17 115.65 L107.16 115.69 L108.15 115.72 L109.14 115.76 L110.13 115.79 L111.12 115.82 L112.12 115.86 L113.11 115.89 L114.1 115.92 L115.09 115.95 L116.08 115.99 L117.07 116.02 L118.07 116.05 L119.06 116.08 L120.05 116.11 L121.04 116.14 L122.03 116.17 L123.02 116.2 L124.02 116.23 L125.01 116.26 L126 116.28 L126.99 116.31 L127.98 116.34 L128.98 116.37 L129.97 116.39 L130.96 116.42 L131.95 116.44 L132.94 116.47 L133.93 116.49 L134.93 116.51 L135.92 116.54 L136.91 116.56 L137.9 116.58 L138.89 116.6 L139.89 116.63 L140.88 116.65 L141.87 116.67 L142.86 116.69 L143.85 116.71 L144.84 116.72 L145.84 116.74 L146.83 116.76 L147.82 116.78 L148.81 116.79 L149.8 116.81 L150.8 116.83 L151.79 116.84 L152.78 116.85 L153.77 116.87 L154.76 116.88 L155.76 116.89 L156.75 116.91 L157.74 116.92 L158.73 116.93 L159.72 116.94 L160.72 116.95 L161.71 116.96 L162.7 116.96 L163.69 116.97 L164.68 116.98 L165.67 116.98 L166.67 116.99 L167.66 116.99 L168.65 117 L169.64 117 L170.63 117.01 L171.63 117.01 L172.62 117.01 L173.61 117.01 L174.6 117.01 L175.59 117.01 L176.59 117.01 L177.58 117.01 L178.57 117 L179.56 117 L180.55 117 L181.55 116.99 L182.54 116.99 L183.53 116.98 L184.52 116.97 L185.51 116.97 L186.51 116.96 L187.5 116.95 L188.49 116.94 L189.48 116.93 L190.47 116.92 L191.46 116.9 L192.46 116.89 L193.45 116.88 L194.44 116.86 L195.43 116.85 L196.42 116.83 L197.42 116.81 L198.41 116.79 L199.4 116.78 L200.39 116.76 L201.38 116.74 L202.38 116.71 L203.37 116.69 L204.36 116.67 L205.35 116.64 L206.34 116.62 L207.34 116.59 L208.33 116.57 L209.32 116.54 L210.31 116.51 L211.3 116.48 L212.3 116.45 L213.29 116.42 L214.28 116.39 L215.27 116.36 L216.26 116.32 L217.25 116.29 L218.25 116.25 L219.24 116.22 L220.23 116.18 L221.22 116.14 L222.21 116.1 L223.21 116.06 L224.2 116.02 L225.19 115.98 L226.18 115.93 L227.17 115.89 L228.17 115.85 L229.16 115.8 L230.15 115.75 L231.14 115.7 L232.13 115.65 L233.13 115.6 L234.12 115.55 L235.11 115.5 L236.1 115.45" fill="none" stroke="#ff0000" stroke-width="2.9" stroke-linecap="butt" stroke-linejoin="round"/>
<path d="M78.4 114.29 L79.39 114.35 L80.38 114.41 L81.37 114.46 L82.37 114.52 L83.36 114.58 L84.35 114.63 L85.34 114.69 L86.33 114.75 L87.32 114.8 L88.31 114.86 L89.3 114.92 L90.3 114.97 L91.29 115.03 L92.28 115.09 L93.27 115.14 L94.26 115.2 L95.25 115.26 L96.24 115.31 L97.24 115.37 L98.23 115.42 L99.22 115.48 L100.21 115.54 L101.2 115.59 L102.19 115.65 L103.18 115.7 L104.18 115.76 L105.17 115.81 L106.16 115.87 L107.15 115.92 L108.14 115.98 L109.13 116.03 L110.12 116.09 L111.11 116.14 L112.11 116.2 L113.1 116.25 L114.09 116.31 L115.08 116.36 L116.07 116.42 L117.06 116.47 L118.05 116.53 L119.05 116.58 L120.04 116.63 L121.03 116.69 L122.02 116.74 L123.01 116.8 L124 116.85 L125 116.9 L125.99 116.95 L126.98 117.01 L127.97 117.06 L128.96 117.11 L129.95 117.17 L130.94 117.22 L131.94 117.27 L132.93 117.32 L133.92 117.38 L134.91 117.43 L135.9 117.48 L136.89 117.53 L137.89 117.58 L138.88 117.63 L139.87 117.68 L140.86 117.74 L141.85 117.79 L142.84 117.84 L143.84 117.89 L144.83 117.94 L145.82 117.99 L146.81 118.04 L147.8 118.09 L148.79 118.14 L149.79 118.19 L150.78 118.24 L151.77 118.29 L152.76 118.33 L153.75 118.38 L154.74 118.43 L155.74 118.48 L156.73 118.53 L157.72 118.58 L158.71 118.62 L159.7 118.67 L160.69 118.72 L161.69 118.77 L162.68 118.81 L163.67 118.86 L164.66 118.91 L165.65 118.95 L166.64 119 L167.64 119.04 L168.63 119.09 L169.62 119.14 L170.61 119.18 L171.6 119.23 L172.6 119.27 L173.59 119.32 L174.58 119.36 L175.57 119.4 L176.56 119.45 L177.56 119.49 L178.55 119.54 L179.54 119.58 L180.53 119.62 L181.52 119.66 L182.52 119.71 L183.51 119.75 L184.5 119.79 L185.49 119.83 L186.48 119.87 L187.48 119.92 L188.47 119.96 L189.46 120 L190.45 120.04 L191.44 120.08 L192.44 120.12 L193.43 120.16 L194.42 120.2 L195.41 120.24 L196.4 120.28 L197.4 120.31 L198.39 120.35 L199.38 120.39 L200.37 120.43 L201.37 120.47 L202.36 120.5 L203.35 120.54 L204.34 120.58 L205.33 120.61 L206.33 120.65 L207.32 120.68 L208.31 120.72 L209.3 120.75 L210.3 120.79 L211.29 120.82 L212.28 120.86 L213.27 120.89 L214.27 120.93 L215.26 120.96 L216.25 120.99 L217.24 121.03 L218.23 121.06 L219.23 121.09 L220.22 121.12 L221.21 121.15 L222.2 121.18 L223.2 121.21 L224.19 121.25 L225.18 121.28 L226.17 121.31 L227.17 121.33 L228.16 121.36 L229.15 121.39 L230.14 121.42 L231.14 121.45 L232.13 121.48 L233.12 121.5 L234.12 121.53 L235.11 121.56 L236.1 121.58" fill="none" stroke="#0000ff" stroke-width="2.9" stroke-dasharray="2.3 3.23" stroke-dashoffset="0" stroke-linejoin="round"/>
<g stroke="#1a1a1a" stroke-width="0.75" fill="none">
<path d="M107.5 62.3 V113 M104.3 62.3 H110.7 M104.3 113 H110.7"/>
<circle cx="107.5" cy="87.7" r="3.55"/>
</g>
<g stroke="#1a1a1a" stroke-width="0.75" fill="none">
<path d="M121.1 125.1 V140.4 M117.9 125.1 H124.3 M117.9 140.4 H124.3"/>
<circle cx="121.1" cy="132.6" r="3.55"/>
</g>
<g stroke="#1a1a1a" stroke-width="0.75" fill="none">
<path d="M161.5 90.4 V122 M158.3 90.4 H164.7 M158.3 122 H164.7"/>
<circle cx="161.5" cy="106.1" r="3.55"/>
</g>
<g stroke="#1a1a1a" stroke-width="0.75" fill="none">
<path d="M199.1 104.2 V120.6 M195.9 104.2 H202.3 M195.9 120.6 H202.3"/>
<circle cx="199.1" cy="112.4" r="3.55"/>
</g>
<text transform="translate(124.6 56.7) scale(1 0.98)" font-family='"Liberation Mono", monospace' font-size="13" fill="#3c3c3c">Fit−2B</text>
<text transform="translate(124.6 71.0) scale(1 0.98)" font-family='"Liberation Mono", monospace' font-size="13" fill="#3c3c3c">Fit−1B</text>
<path d="M180.6 52.3 H222.1" stroke="#ff0000" stroke-width="2.9"/>
<path d="M180.6 66.6 H222.1" stroke="#0000ff" stroke-width="2.9" stroke-dasharray="2.3 3.23"/>
<path d="M330.4 100.66 L331.46 100.71 L332.52 100.76 L333.58 100.81 L334.65 100.87 L335.71 100.93 L336.77 100.99 L337.83 101.05 L338.89 101.12 L339.94 101.2 L341 101.27 L342.06 101.35 L343.12 101.44 L344.17 101.52 L345.23 101.61 L346.29 101.7 L347.34 101.8 L348.4 101.9 L349.45 102 L350.51 102.11 L351.56 102.21 L352.61 102.32 L353.67 102.44 L354.72 102.55 L355.77 102.67 L356.82 102.8 L357.87 102.92 L358.92 103.05 L359.97 103.18 L361.02 103.31 L362.07 103.45 L363.12 103.59 L364.17 103.73 L365.22 103.87 L366.27 104.02 L367.31 104.16 L368.36 104.32 L369.41 104.47 L370.45 104.62 L371.5 104.78 L372.55 104.94 L373.59 105.1 L374.64 105.27 L375.68 105.43 L376.73 105.6 L377.77 105.77 L378.81 105.95 L379.86 106.12 L380.9 106.3 L381.94 106.48 L382.99 106.66 L384.03 106.84 L385.07 107.02 L386.11 107.21 L387.15 107.4 L388.2 107.59 L389.24 107.78 L390.28 107.97 L391.32 108.17 L392.36 108.36 L393.4 108.56 L394.44 108.76 L395.48 108.96 L396.52 109.16 L397.56 109.37 L398.6 109.57 L399.63 109.78 L400.67 109.98 L401.71 110.19 L402.75 110.4 L403.79 110.61 L404.83 110.83 L405.86 111.04 L406.9 111.25 L407.94 111.47 L408.98 111.69 L410.01 111.9 L411.05 112.12 L412.09 112.34 L413.12 112.56 L414.16 112.78 L415.2 113 L416.23 113.23 L417.27 113.45 L418.3 113.67 L419.34 113.9 L420.38 114.12 L421.41 114.35 L422.45 114.58 L423.48 114.8 L424.52 115.03 L425.55 115.26 L426.59 115.49 L427.62 115.71 L428.66 115.94 L429.7 116.17 L430.73 116.4 L431.77 116.63 L432.8 116.86 L433.84 117.09 L434.87 117.32 L435.91 117.55 L436.94 117.78 L437.98 118.01 L439.01 118.24 L440.05 118.47 L441.08 118.7 L442.12 118.93 L443.15 119.16 L444.19 119.39 L445.22 119.62 L446.26 119.85 L447.29 120.08 L448.33 120.3 L449.36 120.53 L450.4 120.76 L451.43 120.99 L452.47 121.21 L453.5 121.44 L454.54 121.66 L455.58 121.89 L456.61 122.11 L457.65 122.33 L458.68 122.56 L459.72 122.78 L460.76 123 L461.79 123.22 L462.83 123.44 L463.87 123.66 L464.9 123.87 L465.94 124.09 L466.98 124.31 L468.01 124.52 L469.05 124.73 L470.09 124.95 L471.13 125.16 L472.17 125.37 L473.2 125.58 L474.24 125.78 L475.28 125.99 L476.32 126.19 L477.36 126.4 L478.4 126.6 L479.44 126.8 L480.48 127 L481.51 127.2 L482.55 127.39 L483.59 127.59 L484.64 127.78 L485.68 127.97 L486.72 128.16 L487.76 128.35 L488.8 128.53 L489.84 128.72 L490.88 128.9 L491.92 129.08 L492.97 129.26 L494.01 129.44 L495.05 129.61 L496.1 129.78" fill="none" stroke="#ff0000" stroke-width="2.9" stroke-linecap="butt" stroke-linejoin="round"/>
<path d="M330.44 86.1 L331.49 86.46 L332.53 86.82 L333.58 87.18 L334.62 87.54 L335.66 87.91 L336.7 88.27 L337.74 88.64 L338.78 89.01 L339.81 89.39 L340.85 89.76 L341.89 90.14 L342.93 90.52 L343.96 90.9 L345 91.29 L346.03 91.67 L347.06 92.06 L348.1 92.45 L349.13 92.84 L350.16 93.23 L351.19 93.63 L352.22 94.02 L353.25 94.42 L354.28 94.82 L355.31 95.22 L356.34 95.62 L357.37 96.02 L358.4 96.43 L359.43 96.83 L360.45 97.24 L361.48 97.65 L362.51 98.05 L363.53 98.46 L364.56 98.88 L365.58 99.29 L366.61 99.7 L367.63 100.11 L368.66 100.53 L369.68 100.94 L370.71 101.36 L371.73 101.78 L372.75 102.19 L373.78 102.61 L374.8 103.03 L375.82 103.45 L376.85 103.87 L377.87 104.29 L378.89 104.71 L379.91 105.13 L380.93 105.55 L381.96 105.97 L382.98 106.4 L384 106.82 L385.02 107.24 L386.05 107.66 L387.07 108.08 L388.09 108.5 L389.11 108.93 L390.13 109.35 L391.15 109.77 L392.18 110.19 L393.2 110.61 L394.22 111.03 L395.24 111.45 L396.27 111.87 L397.29 112.29 L398.31 112.71 L399.33 113.13 L400.36 113.55 L401.38 113.97 L402.41 114.39 L403.43 114.8 L404.45 115.22 L405.48 115.63 L406.5 116.05 L407.53 116.46 L408.55 116.87 L409.58 117.28 L410.6 117.69 L411.63 118.1 L412.66 118.51 L413.68 118.92 L414.71 119.32 L415.74 119.73 L416.77 120.13 L417.79 120.53 L418.82 120.93 L419.85 121.33 L420.88 121.73 L421.91 122.12 L422.94 122.52 L423.98 122.91 L425.01 123.3 L426.04 123.69 L427.07 124.08 L428.11 124.47 L429.14 124.85 L430.18 125.23 L431.21 125.61 L432.25 125.99 L433.29 126.37 L434.32 126.74 L435.36 127.12 L436.4 127.49 L437.44 127.85 L438.48 128.22 L439.52 128.58 L440.56 128.94 L441.61 129.3 L442.65 129.66 L443.7 130.01 L444.74 130.37 L445.79 130.72 L446.83 131.06 L447.88 131.41 L448.93 131.75 L449.98 132.09 L451.03 132.42 L452.08 132.75 L453.13 133.08 L454.19 133.41 L455.24 133.74 L456.3 134.06 L457.35 134.38 L458.41 134.69 L459.47 135 L460.53 135.31 L461.59 135.62 L462.65 135.92 L463.71 136.22 L464.77 136.52 L465.84 136.81 L466.9 137.1 L467.97 137.38 L469.04 137.67 L470.11 137.95 L471.18 138.22 L472.25 138.49 L473.32 138.76 L474.4 139.02 L475.47 139.29 L476.55 139.54 L477.63 139.79 L478.71 140.04 L479.79 140.29 L480.87 140.53 L481.95 140.77 L483.04 141 L484.12 141.23 L485.21 141.45 L486.3 141.67 L487.39 141.89 L488.48 142.1 L489.57 142.31 L490.67 142.51 L491.76 142.71 L492.86 142.9 L493.96 143.09 L495.06 143.28 L496.16 143.46" fill="none" stroke="#0000ff" stroke-width="2.9" stroke-dasharray="2.3 3.23" stroke-dashoffset="0" stroke-linejoin="round"/>
<g stroke="#1a1a1a" stroke-width="0.75" fill="none">
<path d="M361 78.4 V115.3 M357.8 78.4 H364.2 M357.8 115.3 H364.2"/>
<circle cx="361" cy="96.8" r="3.55"/>
</g>
<g stroke="#1a1a1a" stroke-width="0.75" fill="none">
<path d="M375.5 71.6 V98.4 M372.3 71.6 H378.7 M372.3 98.4 H378.7"/>
<circle cx="375.5" cy="85.3" r="3.55"/>
</g>
<g stroke="#1a1a1a" stroke-width="0.75" fill="none">
<path d="M417.8 91.4 V125.3 M414.6 91.4 H421 M414.6 125.3 H421"/>
<circle cx="417.8" cy="108.3" r="3.55"/>
</g>
<g stroke="#1a1a1a" stroke-width="0.75" fill="none">
<path d="M457.5 50.5 V90 M454.3 50.5 H460.7 M454.3 90 H460.7"/>
<circle cx="457.5" cy="70.3" r="3.55"/>
</g>
<path d="M599.2 100.4 L600.19 100.45 L601.18 100.5 L602.17 100.55 L603.15 100.6 L604.14 100.65 L605.13 100.7 L606.12 100.75 L607.11 100.8 L608.1 100.85 L609.09 100.9 L610.07 100.95 L611.06 100.99 L612.05 101.04 L613.04 101.09 L614.03 101.14 L615.02 101.18 L616.01 101.23 L617 101.28 L617.98 101.32 L618.97 101.37 L619.96 101.42 L620.95 101.46 L621.94 101.51 L622.93 101.55 L623.92 101.6 L624.91 101.64 L625.9 101.69 L626.88 101.73 L627.87 101.77 L628.86 101.82 L629.85 101.86 L630.84 101.9 L631.83 101.95 L632.82 101.99 L633.81 102.03 L634.8 102.07 L635.78 102.12 L636.77 102.16 L637.76 102.2 L638.75 102.24 L639.74 102.28 L640.73 102.32 L641.72 102.36 L642.71 102.4 L643.7 102.44 L644.69 102.48 L645.67 102.52 L646.66 102.56 L647.65 102.6 L648.64 102.64 L649.63 102.68 L650.62 102.72 L651.61 102.75 L652.6 102.79 L653.59 102.83 L654.58 102.87 L655.57 102.9 L656.55 102.94 L657.54 102.98 L658.53 103.01 L659.52 103.05 L660.51 103.08 L661.5 103.12 L662.49 103.15 L663.48 103.19 L664.47 103.22 L665.46 103.26 L666.45 103.29 L667.44 103.33 L668.43 103.36 L669.42 103.39 L670.4 103.43 L671.39 103.46 L672.38 103.49 L673.37 103.52 L674.36 103.56 L675.35 103.59 L676.34 103.62 L677.33 103.65 L678.32 103.68 L679.31 103.71 L680.3 103.74 L681.29 103.77 L682.28 103.8 L683.27 103.83 L684.26 103.86 L685.24 103.89 L686.23 103.92 L687.22 103.95 L688.21 103.98 L689.2 104.01 L690.19 104.03 L691.18 104.06 L692.17 104.09 L693.16 104.12 L694.15 104.14 L695.14 104.17 L696.13 104.2 L697.12 104.22 L698.11 104.25 L699.1 104.27 L700.09 104.3 L701.08 104.32 L702.07 104.35 L703.06 104.37 L704.05 104.4 L705.04 104.42 L706.02 104.45 L707.01 104.47 L708 104.49 L708.99 104.52 L709.98 104.54 L710.97 104.56 L711.96 104.58 L712.95 104.6 L713.94 104.63 L714.93 104.65 L715.92 104.67 L716.91 104.69 L717.9 104.71 L718.89 104.73 L719.88 104.75 L720.87 104.77 L721.86 104.79 L722.85 104.81 L723.84 104.83 L724.83 104.85 L725.82 104.86 L726.81 104.88 L727.8 104.9 L728.79 104.92 L729.78 104.94 L730.77 104.95 L731.76 104.97 L732.75 104.99 L733.74 105 L734.72 105.02 L735.71 105.03 L736.7 105.05 L737.69 105.06 L738.68 105.08 L739.67 105.09 L740.66 105.11 L741.65 105.12 L742.64 105.14 L743.63 105.15 L744.62 105.16 L745.61 105.18 L746.6 105.19 L747.59 105.2 L748.58 105.21 L749.57 105.23 L750.56 105.24 L751.55 105.25 L752.54 105.26 L753.53 105.27 L754.52 105.28 L755.51 105.29 L756.5 105.3" fill="none" stroke="#ff0000" stroke-width="2.9" stroke-linecap="butt" stroke-linejoin="round"/>
<path d="M599.2 110.4 L600.19 110.44 L601.18 110.48 L602.17 110.52 L603.16 110.57 L604.14 110.61 L605.13 110.65 L606.12 110.69 L607.11 110.73 L608.1 110.77 L609.09 110.81 L610.08 110.85 L611.07 110.89 L612.06 110.93 L613.04 110.97 L614.03 111.01 L615.02 111.04 L616.01 111.08 L617 111.12 L617.99 111.16 L618.98 111.19 L619.97 111.23 L620.96 111.27 L621.95 111.3 L622.94 111.34 L623.92 111.37 L624.91 111.41 L625.9 111.44 L626.89 111.48 L627.88 111.51 L628.87 111.55 L629.86 111.58 L630.85 111.61 L631.84 111.65 L632.83 111.68 L633.82 111.71 L634.8 111.75 L635.79 111.78 L636.78 111.81 L637.77 111.84 L638.76 111.88 L639.75 111.91 L640.74 111.94 L641.73 111.97 L642.72 112 L643.71 112.03 L644.7 112.06 L645.69 112.09 L646.68 112.12 L647.66 112.15 L648.65 112.18 L649.64 112.21 L650.63 112.24 L651.62 112.27 L652.61 112.3 L653.6 112.33 L654.59 112.35 L655.58 112.38 L656.57 112.41 L657.56 112.44 L658.55 112.47 L659.54 112.49 L660.53 112.52 L661.51 112.55 L662.5 112.58 L663.49 112.6 L664.48 112.63 L665.47 112.66 L666.46 112.68 L667.45 112.71 L668.44 112.73 L669.43 112.76 L670.42 112.79 L671.41 112.81 L672.4 112.84 L673.39 112.86 L674.38 112.89 L675.37 112.91 L676.35 112.94 L677.34 112.96 L678.33 112.99 L679.32 113.01 L680.31 113.04 L681.3 113.06 L682.29 113.09 L683.28 113.11 L684.27 113.13 L685.26 113.16 L686.25 113.18 L687.24 113.21 L688.23 113.23 L689.22 113.25 L690.21 113.28 L691.2 113.3 L692.19 113.32 L693.18 113.35 L694.16 113.37 L695.15 113.39 L696.14 113.42 L697.13 113.44 L698.12 113.46 L699.11 113.49 L700.1 113.51 L701.09 113.53 L702.08 113.55 L703.07 113.58 L704.06 113.6 L705.05 113.62 L706.04 113.64 L707.03 113.67 L708.02 113.69 L709.01 113.71 L710 113.73 L710.99 113.76 L711.97 113.78 L712.96 113.8 L713.95 113.82 L714.94 113.85 L715.93 113.87 L716.92 113.89 L717.91 113.91 L718.9 113.93 L719.89 113.96 L720.88 113.98 L721.87 114 L722.86 114.02 L723.85 114.05 L724.84 114.07 L725.83 114.09 L726.82 114.11 L727.81 114.13 L728.8 114.16 L729.79 114.18 L730.77 114.2 L731.76 114.22 L732.75 114.25 L733.74 114.27 L734.73 114.29 L735.72 114.31 L736.71 114.34 L737.7 114.36 L738.69 114.38 L739.68 114.4 L740.67 114.43 L741.66 114.45 L742.65 114.47 L743.64 114.49 L744.63 114.52 L745.62 114.54 L746.61 114.56 L747.6 114.59 L748.58 114.61 L749.57 114.63 L750.56 114.66 L751.55 114.68 L752.54 114.7 L753.53 114.73 L754.52 114.75 L755.51 114.77 L756.5 114.8" fill="none" stroke="#0000ff" stroke-width="2.9" stroke-dasharray="2.3 3.23" stroke-dashoffset="0" stroke-linejoin="round"/>
<g stroke="#1a1a1a" stroke-width="0.75" fill="none">
<path d="M628.4 90.3 V114.3 M625.2 90.3 H631.6 M625.2 114.3 H631.6"/>
<circle cx="628.4" cy="102" r="3.55"/>
</g>
<g stroke="#1a1a1a" stroke-width="0.75" fill="none">
<path d="M642.2 92.3 V107.6 M639 92.3 H645.4 M639 107.6 H645.4"/>
<circle cx="642.2" cy="100.1" r="3.55"/>
</g>
<g stroke="#1a1a1a" stroke-width="0.75" fill="none">
<path d="M682.5 69.4 V103.3 M679.3 69.4 H685.7 M679.3 103.3 H685.7"/>
<circle cx="682.5" cy="86.4" r="3.55"/>
</g>
<g stroke="#1a1a1a" stroke-width="0.75" fill="none">
<path d="M719.9 100.5 V117.1 M716.7 100.5 H723.1 M716.7 117.1 H723.1"/>
<circle cx="719.9" cy="108.7" r="3.55"/>
</g>
<path d="M78.52 227.79 L78.59 228.41 L78.65 229.05 L78.71 229.68 L78.77 230.32 L78.83 230.96 L78.89 231.61 L78.95 232.26 L79 232.91 L79.06 233.56 L79.12 234.22 L79.17 234.87 L79.23 235.53 L79.29 236.19 L79.35 236.86 L79.41 237.52 L79.47 238.19 L79.53 238.86 L79.6 239.53 L79.67 240.2 L79.74 240.87 L79.81 241.54 L79.88 242.21 L79.96 242.88 L80.04 243.56 L80.12 244.23 L80.21 244.9 L80.3 245.57 L80.39 246.24 L80.49 246.92 L80.59 247.59 L80.7 248.26 L80.81 248.92 L80.93 249.59 L81.05 250.26 L81.18 250.92 L81.31 251.59 L81.45 252.25 L81.6 252.91 L81.75 253.56 L81.91 254.22 L82.07 254.87 L82.25 255.52 L82.42 256.17 L82.61 256.81 L82.81 257.46 L83.01 258.09 L83.22 258.73 L83.44 259.36 L83.66 259.99 L83.9 260.61 L84.14 261.23 L84.4 261.85 L84.66 262.46 L84.93 263.07 L85.21 263.67 L85.5 264.27 L85.8 264.86 L86.1 265.45 L86.42 266.03 L86.74 266.61 L87.08 267.18 L87.42 267.75 L87.77 268.31 L88.13 268.87 L88.5 269.42 L88.88 269.96 L89.27 270.49 L89.67 271.02 L90.07 271.55 L90.49 272.06 L90.92 272.57 L91.35 273.07 L91.79 273.57 L92.25 274.06 L92.71 274.54 L93.18 275.01 L93.66 275.47 L94.15 275.93 L94.64 276.38 L95.15 276.82 L95.66 277.26 L96.18 277.69 L96.7 278.11 L97.23 278.53 L97.76 278.94 L98.3 279.34 L98.85 279.74 L99.4 280.13 L99.95 280.52 L100.5 280.9 L101.06 281.28 L101.62 281.65 L102.18 282.01 L102.74 282.38 L103.31 282.73 L103.87 283.09 L104.44 283.43 L105.01 283.78 L105.58 284.12 L106.16 284.45 L106.73 284.78 L107.31 285.11 L107.89 285.43 L108.47 285.74 L109.05 286.05 L109.64 286.36 L110.22 286.66 L110.81 286.96 L111.4 287.26 L111.99 287.55 L112.59 287.83 L113.18 288.12 L113.78 288.39 L114.37 288.67 L114.97 288.94 L115.57 289.2 L116.17 289.46 L116.78 289.72 L117.38 289.97 L117.99 290.22 L118.6 290.47 L119.21 290.71 L119.82 290.95 L120.43 291.18 L121.05 291.41 L121.66 291.64 L122.28 291.86 L122.9 292.08 L123.51 292.3 L124.14 292.51 L124.76 292.72 L125.38 292.92 L126.01 293.13 L126.63 293.32 L127.26 293.52 L127.89 293.71 L128.52 293.9 L129.15 294.08 L129.78 294.26 L130.41 294.44 L131.05 294.62 L131.68 294.79 L132.32 294.96 L132.96 295.12 L133.6 295.28 L134.24 295.44 L134.88 295.6 L135.52 295.75 L136.16 295.9 L136.81 296.05 L137.45 296.19 L138.1 296.34 L138.75 296.47 L139.4 296.61 L140.04 296.74 L140.7 296.87 L141.35 297 L142 297.13 L142.65 297.25 L143.31 297.37 L143.96 297.48 L144.62 297.6 L145.27 297.71 L145.93 297.82 L146.59 297.93 L147.25 298.03 L147.91 298.13 L148.57 298.23 L149.23 298.33 L149.89 298.43 L150.55 298.52 L151.21 298.61 L151.88 298.7 L152.54 298.79 L153.21 298.87 L153.87 298.95 L154.54 299.03 L155.21 299.11 L155.88 299.19 L156.54 299.26 L157.21 299.33 L157.88 299.4 L158.55 299.47 L159.22 299.54 L159.89 299.6 L160.56 299.67 L161.24 299.73 L161.91 299.79 L162.58 299.85 L163.25 299.9 L163.93 299.96 L164.6 300.01 L165.28 300.06 L165.95 300.11 L166.63 300.16 L167.3 300.21 L167.98 300.26 L168.65 300.3 L169.33 300.34 L170.01 300.39 L170.68 300.43 L171.36 300.47 L172.04 300.5 L172.72 300.54 L173.39 300.58 L174.07 300.61 L174.75 300.65 L175.43 300.68 L176.11 300.71 L176.78 300.74 L177.46 300.77 L178.14 300.8 L178.82 300.83 L179.5 300.86 L180.18 300.88 L180.86 300.91 L181.54 300.93 L182.22 300.96 L182.89 300.98 L183.57 301.01 L184.25 301.03 L184.93 301.05 L185.61 301.07 L186.29 301.09 L186.97 301.11 L187.64 301.13 L188.32 301.15 L189 301.17 L189.68 301.19 L190.36 301.21 L191.03 301.23 L191.71 301.24 L192.39 301.26 L193.06 301.28 L193.74 301.3 L194.42 301.31 L195.09 301.33 L195.77 301.35 L196.44 301.36 L197.12 301.38 L197.79 301.4 L198.47 301.41 L199.14 301.43 L199.82 301.45 L200.49 301.47 L201.16 301.49 L201.83 301.5 L202.51 301.52 L203.18 301.54 L203.85 301.56 L204.52 301.58 L205.19 301.6 L205.86 301.62 L206.52 301.64 L207.19 301.66 L207.86 301.68 L208.53 301.7 L209.19 301.73 L209.86 301.75 L210.52 301.77 L211.19 301.8 L211.85 301.83 L212.52 301.85 L213.18 301.88 L213.84 301.91 L214.5 301.94 L215.16 301.97 L215.82 302 L216.48 302.03 L217.14 302.06 L217.79 302.09 L218.45 302.13 L219.1 302.17 L219.76 302.2 L220.41 302.24 L221.06 302.28 L221.72 302.32 L222.37 302.36 L223.02 302.41 L223.67 302.45 L224.31 302.5 L224.96 302.54 L225.61 302.59 L226.25 302.64 L226.9 302.69 L227.54 302.75 L228.18 302.8 L228.82 302.86 L229.46 302.92 L230.1 302.98 L230.74 303.04 L231.37 303.1 L232.01 303.16 L232.64 303.23 L233.28 303.3 L233.91 303.37 L234.54 303.44 L235.17 303.52 L235.79 303.59" fill="none" stroke="#ff0000" stroke-width="2.9" stroke-linecap="butt" stroke-linejoin="round"/>
<path d="M78.93 227.71 L78.9 228.37 L78.88 229.03 L78.86 229.69 L78.84 230.36 L78.83 231.02 L78.82 231.69 L78.81 232.36 L78.81 233.04 L78.81 233.71 L78.82 234.39 L78.83 235.06 L78.84 235.74 L78.86 236.42 L78.88 237.11 L78.91 237.79 L78.94 238.47 L78.97 239.16 L79.01 239.84 L79.06 240.53 L79.11 241.21 L79.16 241.9 L79.22 242.58 L79.29 243.27 L79.36 243.96 L79.43 244.64 L79.51 245.33 L79.6 246.01 L79.69 246.7 L79.79 247.38 L79.89 248.07 L80 248.75 L80.11 249.43 L80.23 250.11 L80.36 250.79 L80.49 251.47 L80.63 252.15 L80.78 252.82 L80.93 253.5 L81.09 254.17 L81.25 254.84 L81.42 255.5 L81.6 256.17 L81.79 256.83 L81.98 257.49 L82.17 258.15 L82.38 258.81 L82.59 259.46 L82.81 260.11 L83.04 260.76 L83.27 261.4 L83.52 262.04 L83.77 262.68 L84.02 263.32 L84.29 263.95 L84.56 264.58 L84.84 265.2 L85.12 265.82 L85.41 266.44 L85.71 267.05 L86.02 267.66 L86.34 268.26 L86.66 268.86 L86.98 269.46 L87.32 270.05 L87.66 270.64 L88.01 271.22 L88.36 271.8 L88.72 272.37 L89.09 272.94 L89.46 273.51 L89.84 274.07 L90.23 274.62 L90.62 275.17 L91.02 275.72 L91.43 276.25 L91.84 276.79 L92.26 277.32 L92.68 277.84 L93.11 278.36 L93.55 278.87 L93.99 279.38 L94.44 279.88 L94.89 280.37 L95.35 280.86 L95.82 281.34 L96.29 281.82 L96.77 282.29 L97.25 282.75 L97.74 283.21 L98.23 283.66 L98.73 284.11 L99.23 284.54 L99.74 284.98 L100.25 285.4 L100.77 285.82 L101.3 286.23 L101.83 286.63 L102.36 287.03 L102.9 287.42 L103.45 287.8 L104 288.17 L104.55 288.54 L105.11 288.9 L105.67 289.26 L106.24 289.61 L106.81 289.95 L107.39 290.28 L107.97 290.61 L108.55 290.94 L109.14 291.25 L109.73 291.56 L110.33 291.87 L110.93 292.17 L111.54 292.46 L112.14 292.75 L112.75 293.03 L113.37 293.3 L113.99 293.57 L114.61 293.84 L115.23 294.1 L115.86 294.35 L116.49 294.6 L117.13 294.84 L117.76 295.08 L118.4 295.31 L119.04 295.54 L119.69 295.77 L120.34 295.99 L120.99 296.2 L121.64 296.41 L122.29 296.62 L122.95 296.82 L123.61 297.01 L124.27 297.21 L124.93 297.4 L125.6 297.58 L126.26 297.76 L126.93 297.94 L127.6 298.11 L128.27 298.28 L128.95 298.44 L129.62 298.61 L130.3 298.76 L130.97 298.92 L131.65 299.07 L132.33 299.22 L133.01 299.36 L133.69 299.51 L134.37 299.64 L135.05 299.78 L135.74 299.91 L136.42 300.04 L137.1 300.17 L137.79 300.3 L138.47 300.42 L139.16 300.54 L139.84 300.66 L140.53 300.77 L141.21 300.89 L141.9 301 L142.58 301.11 L143.27 301.21 L143.95 301.32 L144.64 301.42 L145.32 301.53 L146 301.63 L146.69 301.72 L147.37 301.82 L148.05 301.91 L148.73 302.01 L149.41 302.1 L150.09 302.19 L150.77 302.28 L151.45 302.36 L152.13 302.45 L152.81 302.53 L153.49 302.62 L154.17 302.7 L154.85 302.77 L155.53 302.85 L156.21 302.93 L156.89 303 L157.56 303.08 L158.24 303.15 L158.92 303.22 L159.6 303.29 L160.27 303.36 L160.95 303.42 L161.63 303.49 L162.3 303.55 L162.98 303.62 L163.65 303.68 L164.33 303.74 L165 303.8 L165.68 303.86 L166.35 303.92 L167.03 303.97 L167.7 304.03 L168.38 304.08 L169.05 304.14 L169.73 304.19 L170.4 304.24 L171.08 304.29 L171.75 304.34 L172.42 304.39 L173.1 304.44 L173.77 304.48 L174.44 304.53 L175.12 304.58 L175.79 304.62 L176.46 304.67 L177.14 304.71 L177.81 304.75 L178.48 304.79 L179.15 304.83 L179.83 304.88 L180.5 304.92 L181.17 304.96 L181.85 304.99 L182.52 305.03 L183.19 305.07 L183.86 305.11 L184.54 305.15 L185.21 305.18 L185.88 305.22 L186.56 305.25 L187.23 305.29 L187.9 305.32 L188.57 305.36 L189.25 305.39 L189.92 305.43 L190.59 305.46 L191.27 305.5 L191.94 305.53 L192.61 305.56 L193.29 305.6 L193.96 305.63 L194.63 305.66 L195.31 305.69 L195.98 305.73 L196.65 305.76 L197.33 305.79 L198 305.83 L198.68 305.86 L199.35 305.89 L200.02 305.92 L200.7 305.96 L201.37 305.99 L202.05 306.02 L202.72 306.06 L203.4 306.09 L204.08 306.12 L204.75 306.16 L205.43 306.19 L206.1 306.23 L206.78 306.26 L207.46 306.3 L208.13 306.33 L208.81 306.37 L209.49 306.41 L210.17 306.44 L210.84 306.48 L211.52 306.52 L212.2 306.55 L212.88 306.59 L213.56 306.63 L214.24 306.67 L214.92 306.71 L215.6 306.75 L216.28 306.8 L216.96 306.84 L217.64 306.88 L218.32 306.92 L219 306.97 L219.68 307.01 L220.36 307.06 L221.05 307.11 L221.73 307.15 L222.41 307.2 L223.1 307.25 L223.78 307.3 L224.46 307.35 L225.15 307.4 L225.83 307.46 L226.52 307.51 L227.21 307.56 L227.89 307.62 L228.58 307.68 L229.27 307.73 L229.95 307.79 L230.64 307.85 L231.33 307.91 L232.02 307.98 L232.71 308.04 L233.4 308.1 L234.09 308.17 L234.78 308.24 L235.47 308.31 L236.16 308.38" fill="none" stroke="#0000ff" stroke-width="2.9" stroke-dasharray="2.3 3.23" stroke-dashoffset="0" stroke-linejoin="round"/>
<g stroke="#1a1a1a" stroke-width="0.75" fill="none">
<path d="M107.5 264.3 V294.5 M104.3 264.3 H110.7 M104.3 294.5 H110.7"/>
<circle cx="107.5" cy="279.4" r="3.55"/>
</g>
<g stroke="#1a1a1a" stroke-width="0.75" fill="none">
<path d="M121.3 286.3 V296.5 M118.1 286.3 H124.5 M118.1 296.5 H124.5"/>
<circle cx="121.3" cy="291.5" r="3.55"/>
</g>
<g stroke="#1a1a1a" stroke-width="0.75" fill="none">
<path d="M161.5 260.4 V290.2 M158.3 260.4 H164.7 M158.3 290.2 H164.7"/>
<circle cx="161.5" cy="275.3" r="3.55"/>
</g>
<g stroke="#1a1a1a" stroke-width="0.75" fill="none">
<path d="M199.1 299.1 V312.1 M195.9 299.1 H202.3 M195.9 312.1 H202.3"/>
<circle cx="199.1" cy="305.2" r="3.55"/>
</g>
<path d="M339.07 285.05 L340.11 285.14 L341.15 285.2 L342.18 285.24 L343.21 285.25 L344.23 285.24 L345.25 285.2 L346.26 285.13 L347.27 285.05 L348.27 284.94 L349.28 284.82 L350.27 284.67 L351.27 284.51 L352.26 284.32 L353.25 284.12 L354.23 283.9 L355.21 283.67 L356.19 283.42 L357.16 283.16 L358.13 282.89 L359.1 282.6 L360.07 282.3 L361.04 281.99 L362 281.67 L362.96 281.34 L363.92 281.01 L364.87 280.66 L365.83 280.31 L366.78 279.96 L367.73 279.6 L368.68 279.23 L369.63 278.86 L370.58 278.48 L371.53 278.1 L372.47 277.72 L373.42 277.33 L374.36 276.94 L375.3 276.55 L376.25 276.15 L377.19 275.75 L378.13 275.35 L379.07 274.95 L380.01 274.55 L380.95 274.14 L381.89 273.74 L382.83 273.34 L383.78 272.94 L384.72 272.53 L385.66 272.13 L386.6 271.73 L387.54 271.34 L388.49 270.94 L389.43 270.55 L390.38 270.16 L391.32 269.77 L392.27 269.38 L393.22 269.01 L394.17 268.63 L395.12 268.26 L396.07 267.89 L397.02 267.53 L397.98 267.18 L398.93 266.83 L399.89 266.48 L400.85 266.15 L401.81 265.82 L402.78 265.5 L403.75 265.18 L404.72 264.88 L405.69 264.58 L406.66 264.29 L407.64 264.01 L408.62 263.74 L409.6 263.48 L410.58 263.22 L411.57 262.98 L412.55 262.74 L413.54 262.51 L414.53 262.29 L415.53 262.08 L416.52 261.87 L417.52 261.68 L418.52 261.49 L419.52 261.31 L420.52 261.14 L421.53 260.97 L422.53 260.82 L423.54 260.67 L424.55 260.53 L425.56 260.39 L426.57 260.27 L427.58 260.15 L428.6 260.04 L429.61 259.93 L430.63 259.84 L431.64 259.75 L432.66 259.67 L433.68 259.59 L434.7 259.53 L435.72 259.46 L436.74 259.41 L437.76 259.37 L438.78 259.33 L439.81 259.29 L440.83 259.27 L441.85 259.25 L442.88 259.24 L443.9 259.23 L444.93 259.23 L445.95 259.24 L446.98 259.25 L448 259.27 L449.03 259.3 L450.05 259.33 L451.08 259.37 L452.1 259.42 L453.13 259.47 L454.15 259.53 L455.18 259.59 L456.2 259.66 L457.22 259.73 L458.24 259.82 L459.27 259.9 L460.29 259.99 L461.31 260.09 L462.33 260.2 L463.35 260.31 L464.37 260.42 L465.38 260.54 L466.4 260.67 L467.42 260.8 L468.43 260.93 L469.44 261.07 L470.46 261.22 L471.47 261.37 L472.48 261.53 L473.48 261.69 L474.49 261.86 L475.5 262.03 L476.5 262.2 L477.5 262.38 L478.5 262.57 L479.5 262.76 L480.5 262.95 L481.49 263.15 L482.49 263.35 L483.48 263.56 L484.47 263.77 L485.45 263.99 L486.44 264.21 L487.42 264.43 L488.4 264.66 L489.38 264.9 L490.36 265.13 L491.33 265.37 L492.3 265.62 L493.27 265.87 L494.23 266.12 L495.2 266.37 L496.16 266.63" fill="none" stroke="#ff0000" stroke-width="2.9" stroke-linecap="butt" stroke-linejoin="round"/>
<path d="M338.89 285.22 L339.91 285.91 L340.94 286.46 L341.98 286.88 L343.04 287.19 L344.1 287.38 L345.17 287.48 L346.24 287.49 L347.31 287.41 L348.37 287.27 L349.42 287.06 L350.46 286.8 L351.49 286.49 L352.51 286.14 L353.52 285.75 L354.52 285.31 L355.52 284.85 L356.5 284.35 L357.49 283.83 L358.46 283.29 L359.43 282.72 L360.4 282.15 L361.37 281.56 L362.34 280.96 L363.3 280.35 L364.27 279.75 L365.24 279.15 L366.21 278.55 L367.18 277.96 L368.15 277.37 L369.13 276.79 L370.11 276.21 L371.09 275.63 L372.07 275.07 L373.06 274.51 L374.05 273.96 L375.04 273.42 L376.03 272.89 L377.03 272.36 L378.02 271.85 L379.03 271.35 L380.03 270.86 L381.04 270.39 L382.05 269.92 L383.07 269.47 L384.09 269.04 L385.11 268.61 L386.14 268.21 L387.17 267.82 L388.2 267.44 L389.24 267.08 L390.28 266.74 L391.33 266.42 L392.38 266.12 L393.44 265.84 L394.5 265.57 L395.56 265.33 L396.63 265.11 L397.71 264.91 L398.79 264.73 L399.87 264.58 L400.96 264.45 L402.06 264.34 L403.15 264.25 L404.26 264.19 L405.36 264.15 L406.47 264.13 L407.58 264.13 L408.69 264.15 L409.8 264.19 L410.92 264.25 L412.03 264.33 L413.15 264.43 L414.27 264.55 L415.38 264.69 L416.5 264.84 L417.61 265.02 L418.72 265.21 L419.83 265.42 L420.93 265.64 L422.04 265.88 L423.14 266.14 L424.23 266.41 L425.32 266.7 L426.41 267.01 L427.49 267.33 L428.57 267.66 L429.64 268.01 L430.7 268.37 L431.76 268.74 L432.81 269.13 L433.85 269.53 L434.89 269.94 L435.92 270.37 L436.94 270.8 L437.96 271.25 L438.97 271.71 L439.97 272.18 L440.97 272.66 L441.97 273.15 L442.95 273.66 L443.93 274.17 L444.91 274.69 L445.88 275.22 L446.84 275.76 L447.8 276.31 L448.76 276.87 L449.71 277.44 L450.66 278.02 L451.6 278.6 L452.53 279.19 L453.47 279.79 L454.4 280.39 L455.32 281.01 L456.24 281.63 L457.16 282.25 L458.08 282.88 L458.99 283.52 L459.9 284.16 L460.8 284.81 L461.7 285.46 L462.6 286.12 L463.5 286.78 L464.39 287.45 L465.29 288.12 L466.18 288.79 L467.06 289.47 L467.95 290.15 L468.83 290.84 L469.72 291.52 L470.6 292.21 L471.48 292.9 L472.36 293.59 L473.24 294.29 L474.11 294.98 L474.99 295.68 L475.87 296.38 L476.74 297.07 L477.62 297.77 L478.49 298.47 L479.37 299.16 L480.24 299.86 L481.12 300.56 L481.99 301.25 L482.87 301.94 L483.75 302.64 L484.63 303.33 L485.51 304.01 L486.39 304.7 L487.27 305.38 L488.15 306.06 L489.04 306.74 L489.92 307.41 L490.81 308.08 L491.7 308.74 L492.59 309.4 L493.49 310.06 L494.39 310.71 L495.28 311.35 L496.19 311.99" fill="none" stroke="#0000ff" stroke-width="2.9" stroke-dasharray="2.3 3.23" stroke-dashoffset="0" stroke-linejoin="round"/>
<g stroke="#1a1a1a" stroke-width="0.75" fill="none">
<path d="M367.7 268.5 V277.8 M364.5 268.5 H370.9 M364.5 277.8 H370.9"/>
<circle cx="367.7" cy="273.6" r="3.55"/>
</g>
<g stroke="#1a1a1a" stroke-width="0.75" fill="none">
<path d="M382 269.7 V277.2 M378.8 269.7 H385.2 M378.8 277.2 H385.2"/>
<circle cx="382" cy="273.3" r="3.55"/>
</g>
<g stroke="#1a1a1a" stroke-width="0.75" fill="none">
<path d="M422.1 261.7 V273.6 M418.9 261.7 H425.3 M418.9 273.6 H425.3"/>
<circle cx="422.1" cy="267.5" r="3.55"/>
</g>
<g stroke="#1a1a1a" stroke-width="0.75" fill="none">
<path d="M459.6 237 V249.4 M456.4 237 H462.8 M456.4 249.4 H462.8"/>
<circle cx="459.6" cy="243.5" r="3.55"/>
</g>
<g stroke="#0000ff" stroke-width="1.0" fill="none">
<path d="M659 241.85 V304.4" stroke-dasharray="2.3 3.2"/>
<path d="M655.4 240 H662.6 M655.4 304.4 H662.6" stroke-dasharray="2.1 3.6"/>
<path d="M655.2 270.4 H662.8 L659 276.3 Z" stroke-width="0.8"/>
</g>
<path d="M664.0 260.5 V290.4" stroke="#000" stroke-width="1.0" fill="none"/>
<path d="M660.8 260.5 H667.4 M660.8 290.4 H667.4" stroke="#222" stroke-width="0.8"/>
<circle cx="664.1" cy="275.7" r="3.5" fill="none" stroke="#1a1a1a" stroke-width="0.8"/>
<g stroke="#ff0000" stroke-width="1.0" fill="none">
<path d="M669.0 238.5 V310.1" stroke-width="0.9"/>
<path d="M665.8 238.5 H672.6 M665.8 310.1 H672.6" stroke-width="0.8"/>
<path d="M665.3 276.8 H672.9 L669.1 271 Z" stroke-width="0.8"/>
</g>
</svg>
</body></html>
